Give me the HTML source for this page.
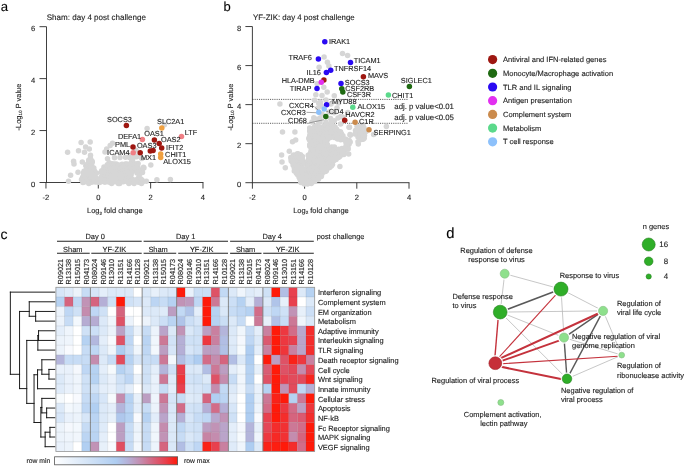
<!DOCTYPE html>
<html lang="en">
<head>
<meta charset="utf-8">
<title>Figure</title>
<style>
html,body{margin:0;padding:0;background:#fff;}
body{width:685px;height:466px;overflow:hidden;}
svg{display:block;font-family:'Liberation Sans', Arial, Helvetica, sans-serif;}
svg text{font-family:'Liberation Sans', Arial, Helvetica, sans-serif;text-rendering:geometricPrecision;stroke:#222;stroke-width:0.12px;}
</style>
</head>
<body>
<svg width="685" height="466" viewBox="0 0 685 466">
<rect x="0" y="0" width="685" height="466" fill="#ffffff"/>
<g id="panel-a">
<text x="0.7" y="11.1" font-size="13.2" text-anchor="start" fill="#000">a</text>
<text x="46.7" y="20" font-size="8.05" text-anchor="start" fill="#1c1c1c">Sham: day 4 post challenge</text>
<line x1="46.5" y1="26.680000000000007" x2="46.5" y2="182.5" stroke="#2a2a2a" stroke-width="0.9"/>
<line x1="46.05" y1="182.5" x2="203.43" y2="182.5" stroke="#2a2a2a" stroke-width="0.9"/>
<line x1="39.5" y1="182.5" x2="46.5" y2="182.5" stroke="#2a2a2a" stroke-width="0.9"/>
<text x="35.3" y="186.7" font-size="7.6" text-anchor="end" fill="#1c1c1c">0</text>
<line x1="39.5" y1="130.56" x2="46.5" y2="130.56" stroke="#2a2a2a" stroke-width="0.9"/>
<text x="35.3" y="134.76" font-size="7.6" text-anchor="end" fill="#1c1c1c">2</text>
<line x1="39.5" y1="78.62" x2="46.5" y2="78.62" stroke="#2a2a2a" stroke-width="0.9"/>
<text x="35.3" y="82.82000000000001" font-size="7.6" text-anchor="end" fill="#1c1c1c">4</text>
<line x1="39.5" y1="26.680000000000007" x2="46.5" y2="26.680000000000007" stroke="#2a2a2a" stroke-width="0.9"/>
<text x="35.3" y="30.880000000000006" font-size="7.6" text-anchor="end" fill="#1c1c1c">6</text>
<line x1="45.959999999999994" y1="182.5" x2="45.959999999999994" y2="188.5" stroke="#2a2a2a" stroke-width="0.9"/>
<text x="45.959999999999994" y="200.1" font-size="7.6" text-anchor="middle" fill="#1c1c1c">-2</text>
<line x1="98.3" y1="182.5" x2="98.3" y2="188.5" stroke="#2a2a2a" stroke-width="0.9"/>
<text x="98.3" y="200.1" font-size="7.6" text-anchor="middle" fill="#1c1c1c">0</text>
<line x1="150.64" y1="182.5" x2="150.64" y2="188.5" stroke="#2a2a2a" stroke-width="0.9"/>
<text x="150.64" y="200.1" font-size="7.6" text-anchor="middle" fill="#1c1c1c">2</text>
<line x1="202.98000000000002" y1="182.5" x2="202.98000000000002" y2="188.5" stroke="#2a2a2a" stroke-width="0.9"/>
<text x="202.98000000000002" y="200.1" font-size="7.6" text-anchor="middle" fill="#1c1c1c">4</text>
<text x="114.8" y="213.0" font-size="7.45" text-anchor="middle" fill="#1c1c1c">Log<tspan font-size="4.6" dy="1.6">2</tspan><tspan dy="-1.6"> fold change</tspan></text>
<text x="20.5" y="107" font-size="7.45" text-anchor="middle" fill="#1c1c1c" transform="rotate(-90 20.5 107)">-Log<tspan font-size="4.6" dy="1.6">10</tspan><tspan dy="-1.6"> P value</tspan></text>
<circle cx="90.4" cy="158.1" r="2.75" fill="#D6D6D6"/>
<circle cx="88.7" cy="160.2" r="2.75" fill="#D6D6D6"/>
<circle cx="91.8" cy="160.7" r="2.75" fill="#D6D6D6"/>
<circle cx="88.4" cy="162.7" r="2.75" fill="#D6D6D6"/>
<circle cx="91.0" cy="162.7" r="2.75" fill="#D6D6D6"/>
<circle cx="92.3" cy="162.0" r="2.75" fill="#D6D6D6"/>
<circle cx="87.0" cy="164.4" r="2.75" fill="#D6D6D6"/>
<circle cx="90.1" cy="164.6" r="2.75" fill="#D6D6D6"/>
<circle cx="91.6" cy="164.5" r="2.75" fill="#D6D6D6"/>
<circle cx="85.8" cy="165.8" r="2.75" fill="#D6D6D6"/>
<circle cx="87.5" cy="165.9" r="2.75" fill="#D6D6D6"/>
<circle cx="89.9" cy="166.3" r="2.75" fill="#D6D6D6"/>
<circle cx="91.9" cy="167.1" r="2.75" fill="#D6D6D6"/>
<circle cx="86.9" cy="168.3" r="2.75" fill="#D6D6D6"/>
<circle cx="89.9" cy="168.2" r="2.75" fill="#D6D6D6"/>
<circle cx="90.8" cy="169.4" r="2.75" fill="#D6D6D6"/>
<circle cx="93.8" cy="168.1" r="2.75" fill="#D6D6D6"/>
<circle cx="84.0" cy="171.3" r="2.75" fill="#D6D6D6"/>
<circle cx="85.8" cy="170.5" r="2.75" fill="#D6D6D6"/>
<circle cx="88.8" cy="171.7" r="2.75" fill="#D6D6D6"/>
<circle cx="91.1" cy="171.4" r="2.75" fill="#D6D6D6"/>
<circle cx="93.2" cy="171.3" r="2.75" fill="#D6D6D6"/>
<circle cx="94.5" cy="170.9" r="2.75" fill="#D6D6D6"/>
<circle cx="83.5" cy="173.0" r="2.75" fill="#D6D6D6"/>
<circle cx="85.7" cy="173.9" r="2.75" fill="#D6D6D6"/>
<circle cx="87.9" cy="172.9" r="2.75" fill="#D6D6D6"/>
<circle cx="89.0" cy="172.7" r="2.75" fill="#D6D6D6"/>
<circle cx="91.1" cy="172.6" r="2.75" fill="#D6D6D6"/>
<circle cx="94.0" cy="173.7" r="2.75" fill="#D6D6D6"/>
<circle cx="96.5" cy="173.1" r="2.75" fill="#D6D6D6"/>
<circle cx="83.4" cy="175.8" r="2.75" fill="#D6D6D6"/>
<circle cx="85.8" cy="175.8" r="2.75" fill="#D6D6D6"/>
<circle cx="89.1" cy="175.1" r="2.75" fill="#D6D6D6"/>
<circle cx="90.3" cy="176.0" r="2.75" fill="#D6D6D6"/>
<circle cx="93.1" cy="174.8" r="2.75" fill="#D6D6D6"/>
<circle cx="94.3" cy="174.7" r="2.75" fill="#D6D6D6"/>
<circle cx="82.6" cy="177.6" r="2.75" fill="#D6D6D6"/>
<circle cx="84.4" cy="176.7" r="2.75" fill="#D6D6D6"/>
<circle cx="88.0" cy="177.7" r="2.75" fill="#D6D6D6"/>
<circle cx="89.4" cy="178.2" r="2.75" fill="#D6D6D6"/>
<circle cx="91.5" cy="178.1" r="2.75" fill="#D6D6D6"/>
<circle cx="94.3" cy="177.0" r="2.75" fill="#D6D6D6"/>
<circle cx="95.6" cy="177.2" r="2.75" fill="#D6D6D6"/>
<circle cx="81.5" cy="179.6" r="2.75" fill="#D6D6D6"/>
<circle cx="84.0" cy="180.3" r="2.75" fill="#D6D6D6"/>
<circle cx="86.0" cy="180.4" r="2.75" fill="#D6D6D6"/>
<circle cx="88.3" cy="179.8" r="2.75" fill="#D6D6D6"/>
<circle cx="90.5" cy="178.9" r="2.75" fill="#D6D6D6"/>
<circle cx="92.6" cy="179.2" r="2.75" fill="#D6D6D6"/>
<circle cx="94.1" cy="180.2" r="2.75" fill="#D6D6D6"/>
<circle cx="96.6" cy="179.7" r="2.75" fill="#D6D6D6"/>
<circle cx="82.9" cy="182.4" r="2.75" fill="#D6D6D6"/>
<circle cx="84.4" cy="182.0" r="2.75" fill="#D6D6D6"/>
<circle cx="86.8" cy="181.5" r="2.75" fill="#D6D6D6"/>
<circle cx="89.8" cy="181.9" r="2.75" fill="#D6D6D6"/>
<circle cx="91.7" cy="182.3" r="2.75" fill="#D6D6D6"/>
<circle cx="94.5" cy="181.8" r="2.75" fill="#D6D6D6"/>
<circle cx="96.2" cy="181.9" r="2.75" fill="#D6D6D6"/>
<circle cx="88.8" cy="183.5" r="2.75" fill="#D6D6D6"/>
<circle cx="109.2" cy="162.7" r="2.75" fill="#D6D6D6"/>
<circle cx="131.5" cy="162.1" r="2.75" fill="#D6D6D6"/>
<circle cx="132.8" cy="162.0" r="2.75" fill="#D6D6D6"/>
<circle cx="107.3" cy="164.7" r="2.75" fill="#D6D6D6"/>
<circle cx="110.8" cy="164.5" r="2.75" fill="#D6D6D6"/>
<circle cx="112.1" cy="163.8" r="2.75" fill="#D6D6D6"/>
<circle cx="114.3" cy="164.1" r="2.75" fill="#D6D6D6"/>
<circle cx="116.3" cy="164.1" r="2.75" fill="#D6D6D6"/>
<circle cx="118.6" cy="164.9" r="2.75" fill="#D6D6D6"/>
<circle cx="122.0" cy="164.3" r="2.75" fill="#D6D6D6"/>
<circle cx="123.0" cy="164.9" r="2.75" fill="#D6D6D6"/>
<circle cx="125.3" cy="164.0" r="2.75" fill="#D6D6D6"/>
<circle cx="127.0" cy="164.0" r="2.75" fill="#D6D6D6"/>
<circle cx="130.0" cy="164.2" r="2.75" fill="#D6D6D6"/>
<circle cx="131.7" cy="164.2" r="2.75" fill="#D6D6D6"/>
<circle cx="133.6" cy="163.8" r="2.75" fill="#D6D6D6"/>
<circle cx="135.9" cy="164.0" r="2.75" fill="#D6D6D6"/>
<circle cx="138.1" cy="163.4" r="2.75" fill="#D6D6D6"/>
<circle cx="104.0" cy="166.9" r="2.75" fill="#D6D6D6"/>
<circle cx="107.5" cy="166.6" r="2.75" fill="#D6D6D6"/>
<circle cx="109.5" cy="166.9" r="2.75" fill="#D6D6D6"/>
<circle cx="110.7" cy="166.4" r="2.75" fill="#D6D6D6"/>
<circle cx="113.5" cy="166.9" r="2.75" fill="#D6D6D6"/>
<circle cx="116.2" cy="166.9" r="2.75" fill="#D6D6D6"/>
<circle cx="118.0" cy="167.0" r="2.75" fill="#D6D6D6"/>
<circle cx="120.4" cy="166.7" r="2.75" fill="#D6D6D6"/>
<circle cx="121.9" cy="165.6" r="2.75" fill="#D6D6D6"/>
<circle cx="123.9" cy="166.2" r="2.75" fill="#D6D6D6"/>
<circle cx="126.1" cy="166.9" r="2.75" fill="#D6D6D6"/>
<circle cx="129.0" cy="166.6" r="2.75" fill="#D6D6D6"/>
<circle cx="131.3" cy="166.7" r="2.75" fill="#D6D6D6"/>
<circle cx="133.3" cy="165.6" r="2.75" fill="#D6D6D6"/>
<circle cx="136.0" cy="166.8" r="2.75" fill="#D6D6D6"/>
<circle cx="137.7" cy="166.5" r="2.75" fill="#D6D6D6"/>
<circle cx="104.0" cy="168.8" r="2.75" fill="#D6D6D6"/>
<circle cx="106.0" cy="167.9" r="2.75" fill="#D6D6D6"/>
<circle cx="107.4" cy="168.2" r="2.75" fill="#D6D6D6"/>
<circle cx="110.6" cy="168.3" r="2.75" fill="#D6D6D6"/>
<circle cx="112.5" cy="167.8" r="2.75" fill="#D6D6D6"/>
<circle cx="113.9" cy="168.2" r="2.75" fill="#D6D6D6"/>
<circle cx="117.1" cy="168.9" r="2.75" fill="#D6D6D6"/>
<circle cx="119.3" cy="168.3" r="2.75" fill="#D6D6D6"/>
<circle cx="121.2" cy="168.5" r="2.75" fill="#D6D6D6"/>
<circle cx="123.3" cy="168.0" r="2.75" fill="#D6D6D6"/>
<circle cx="126.2" cy="168.1" r="2.75" fill="#D6D6D6"/>
<circle cx="128.6" cy="169.3" r="2.75" fill="#D6D6D6"/>
<circle cx="129.2" cy="168.5" r="2.75" fill="#D6D6D6"/>
<circle cx="132.7" cy="169.3" r="2.75" fill="#D6D6D6"/>
<circle cx="134.3" cy="168.2" r="2.75" fill="#D6D6D6"/>
<circle cx="136.1" cy="169.3" r="2.75" fill="#D6D6D6"/>
<circle cx="138.3" cy="168.7" r="2.75" fill="#D6D6D6"/>
<circle cx="143.9" cy="168.0" r="2.75" fill="#D6D6D6"/>
<circle cx="101.7" cy="170.8" r="2.75" fill="#D6D6D6"/>
<circle cx="104.6" cy="170.5" r="2.75" fill="#D6D6D6"/>
<circle cx="106.3" cy="170.6" r="2.75" fill="#D6D6D6"/>
<circle cx="108.8" cy="171.3" r="2.75" fill="#D6D6D6"/>
<circle cx="110.5" cy="171.2" r="2.75" fill="#D6D6D6"/>
<circle cx="114.0" cy="170.2" r="2.75" fill="#D6D6D6"/>
<circle cx="116.4" cy="171.1" r="2.75" fill="#D6D6D6"/>
<circle cx="118.5" cy="170.5" r="2.75" fill="#D6D6D6"/>
<circle cx="119.9" cy="170.6" r="2.75" fill="#D6D6D6"/>
<circle cx="123.1" cy="170.9" r="2.75" fill="#D6D6D6"/>
<circle cx="124.3" cy="170.7" r="2.75" fill="#D6D6D6"/>
<circle cx="126.3" cy="170.1" r="2.75" fill="#D6D6D6"/>
<circle cx="128.3" cy="171.3" r="2.75" fill="#D6D6D6"/>
<circle cx="130.8" cy="171.5" r="2.75" fill="#D6D6D6"/>
<circle cx="132.9" cy="170.4" r="2.75" fill="#D6D6D6"/>
<circle cx="135.5" cy="170.3" r="2.75" fill="#D6D6D6"/>
<circle cx="137.5" cy="171.5" r="2.75" fill="#D6D6D6"/>
<circle cx="140.5" cy="171.3" r="2.75" fill="#D6D6D6"/>
<circle cx="142.3" cy="171.5" r="2.75" fill="#D6D6D6"/>
<circle cx="101.1" cy="172.3" r="2.75" fill="#D6D6D6"/>
<circle cx="104.3" cy="172.4" r="2.75" fill="#D6D6D6"/>
<circle cx="105.8" cy="172.7" r="2.75" fill="#D6D6D6"/>
<circle cx="107.7" cy="173.4" r="2.75" fill="#D6D6D6"/>
<circle cx="111.0" cy="172.6" r="2.75" fill="#D6D6D6"/>
<circle cx="112.6" cy="172.7" r="2.75" fill="#D6D6D6"/>
<circle cx="114.7" cy="172.8" r="2.75" fill="#D6D6D6"/>
<circle cx="116.3" cy="172.5" r="2.75" fill="#D6D6D6"/>
<circle cx="118.5" cy="173.6" r="2.75" fill="#D6D6D6"/>
<circle cx="121.2" cy="172.6" r="2.75" fill="#D6D6D6"/>
<circle cx="124.1" cy="173.8" r="2.75" fill="#D6D6D6"/>
<circle cx="125.5" cy="172.4" r="2.75" fill="#D6D6D6"/>
<circle cx="127.3" cy="172.3" r="2.75" fill="#D6D6D6"/>
<circle cx="129.7" cy="172.3" r="2.75" fill="#D6D6D6"/>
<circle cx="131.8" cy="172.6" r="2.75" fill="#D6D6D6"/>
<circle cx="137.0" cy="172.9" r="2.75" fill="#D6D6D6"/>
<circle cx="138.7" cy="173.0" r="2.75" fill="#D6D6D6"/>
<circle cx="140.8" cy="172.7" r="2.75" fill="#D6D6D6"/>
<circle cx="142.5" cy="172.6" r="2.75" fill="#D6D6D6"/>
<circle cx="102.3" cy="175.1" r="2.75" fill="#D6D6D6"/>
<circle cx="105.4" cy="175.8" r="2.75" fill="#D6D6D6"/>
<circle cx="107.5" cy="174.4" r="2.75" fill="#D6D6D6"/>
<circle cx="108.4" cy="175.5" r="2.75" fill="#D6D6D6"/>
<circle cx="111.9" cy="175.2" r="2.75" fill="#D6D6D6"/>
<circle cx="113.6" cy="174.4" r="2.75" fill="#D6D6D6"/>
<circle cx="115.5" cy="175.9" r="2.75" fill="#D6D6D6"/>
<circle cx="118.4" cy="175.8" r="2.75" fill="#D6D6D6"/>
<circle cx="120.9" cy="174.8" r="2.75" fill="#D6D6D6"/>
<circle cx="121.7" cy="174.6" r="2.75" fill="#D6D6D6"/>
<circle cx="124.5" cy="175.5" r="2.75" fill="#D6D6D6"/>
<circle cx="127.4" cy="175.6" r="2.75" fill="#D6D6D6"/>
<circle cx="129.1" cy="175.6" r="2.75" fill="#D6D6D6"/>
<circle cx="131.0" cy="175.3" r="2.75" fill="#D6D6D6"/>
<circle cx="139.3" cy="174.8" r="2.75" fill="#D6D6D6"/>
<circle cx="101.1" cy="177.3" r="2.75" fill="#D6D6D6"/>
<circle cx="104.3" cy="177.6" r="2.75" fill="#D6D6D6"/>
<circle cx="106.4" cy="177.4" r="2.75" fill="#D6D6D6"/>
<circle cx="107.6" cy="177.0" r="2.75" fill="#D6D6D6"/>
<circle cx="110.9" cy="177.7" r="2.75" fill="#D6D6D6"/>
<circle cx="112.1" cy="176.6" r="2.75" fill="#D6D6D6"/>
<circle cx="114.6" cy="177.7" r="2.75" fill="#D6D6D6"/>
<circle cx="116.7" cy="177.0" r="2.75" fill="#D6D6D6"/>
<circle cx="119.3" cy="178.1" r="2.75" fill="#D6D6D6"/>
<circle cx="120.8" cy="176.7" r="2.75" fill="#D6D6D6"/>
<circle cx="123.1" cy="177.3" r="2.75" fill="#D6D6D6"/>
<circle cx="125.9" cy="176.9" r="2.75" fill="#D6D6D6"/>
<circle cx="128.3" cy="177.8" r="2.75" fill="#D6D6D6"/>
<circle cx="130.0" cy="176.9" r="2.75" fill="#D6D6D6"/>
<circle cx="138.5" cy="178.1" r="2.75" fill="#D6D6D6"/>
<circle cx="99.7" cy="178.9" r="2.75" fill="#D6D6D6"/>
<circle cx="101.8" cy="179.4" r="2.75" fill="#D6D6D6"/>
<circle cx="105.3" cy="180.2" r="2.75" fill="#D6D6D6"/>
<circle cx="107.3" cy="180.4" r="2.75" fill="#D6D6D6"/>
<circle cx="109.8" cy="179.3" r="2.75" fill="#D6D6D6"/>
<circle cx="110.8" cy="180.3" r="2.75" fill="#D6D6D6"/>
<circle cx="113.9" cy="178.9" r="2.75" fill="#D6D6D6"/>
<circle cx="116.0" cy="179.4" r="2.75" fill="#D6D6D6"/>
<circle cx="117.7" cy="179.3" r="2.75" fill="#D6D6D6"/>
<circle cx="119.6" cy="178.8" r="2.75" fill="#D6D6D6"/>
<circle cx="121.9" cy="179.4" r="2.75" fill="#D6D6D6"/>
<circle cx="125.2" cy="179.0" r="2.75" fill="#D6D6D6"/>
<circle cx="127.4" cy="179.1" r="2.75" fill="#D6D6D6"/>
<circle cx="128.7" cy="180.1" r="2.75" fill="#D6D6D6"/>
<circle cx="131.6" cy="179.5" r="2.75" fill="#D6D6D6"/>
<circle cx="132.6" cy="179.6" r="2.75" fill="#D6D6D6"/>
<circle cx="135.3" cy="180.3" r="2.75" fill="#D6D6D6"/>
<circle cx="137.2" cy="179.4" r="2.75" fill="#D6D6D6"/>
<circle cx="140.5" cy="178.8" r="2.75" fill="#D6D6D6"/>
<circle cx="142.0" cy="180.1" r="2.75" fill="#D6D6D6"/>
<circle cx="99.6" cy="182.4" r="2.75" fill="#D6D6D6"/>
<circle cx="101.1" cy="181.4" r="2.75" fill="#D6D6D6"/>
<circle cx="104.3" cy="182.0" r="2.75" fill="#D6D6D6"/>
<circle cx="105.4" cy="182.1" r="2.75" fill="#D6D6D6"/>
<circle cx="107.7" cy="181.4" r="2.75" fill="#D6D6D6"/>
<circle cx="109.4" cy="182.2" r="2.75" fill="#D6D6D6"/>
<circle cx="113.1" cy="182.0" r="2.75" fill="#D6D6D6"/>
<circle cx="115.3" cy="181.0" r="2.75" fill="#D6D6D6"/>
<circle cx="116.4" cy="181.8" r="2.75" fill="#D6D6D6"/>
<circle cx="119.7" cy="182.5" r="2.75" fill="#D6D6D6"/>
<circle cx="121.0" cy="181.4" r="2.75" fill="#D6D6D6"/>
<circle cx="123.3" cy="181.8" r="2.75" fill="#D6D6D6"/>
<circle cx="126.3" cy="181.3" r="2.75" fill="#D6D6D6"/>
<circle cx="128.3" cy="182.2" r="2.75" fill="#D6D6D6"/>
<circle cx="130.5" cy="182.2" r="2.75" fill="#D6D6D6"/>
<circle cx="132.4" cy="181.5" r="2.75" fill="#D6D6D6"/>
<circle cx="134.1" cy="181.6" r="2.75" fill="#D6D6D6"/>
<circle cx="137.1" cy="181.1" r="2.75" fill="#D6D6D6"/>
<circle cx="138.3" cy="182.2" r="2.75" fill="#D6D6D6"/>
<circle cx="140.6" cy="181.1" r="2.75" fill="#D6D6D6"/>
<circle cx="142.5" cy="181.9" r="2.75" fill="#D6D6D6"/>
<circle cx="111.6" cy="183.4" r="2.75" fill="#D6D6D6"/>
<circle cx="118.3" cy="183.5" r="2.75" fill="#D6D6D6"/>
<circle cx="119.7" cy="183.6" r="2.75" fill="#D6D6D6"/>
<circle cx="128.9" cy="183.6" r="2.75" fill="#D6D6D6"/>
<circle cx="134.1" cy="183.4" r="2.75" fill="#D6D6D6"/>
<circle cx="141.5" cy="183.5" r="2.75" fill="#D6D6D6"/>
<circle cx="67.6" cy="152.3" r="2.75" fill="#D6D6D6"/>
<circle cx="81.1" cy="142.5" r="2.75" fill="#D6D6D6"/>
<circle cx="90.2" cy="142.1" r="2.75" fill="#D6D6D6"/>
<circle cx="85.6" cy="147.0" r="2.75" fill="#D6D6D6"/>
<circle cx="78.5" cy="150.8" r="2.75" fill="#D6D6D6"/>
<circle cx="89.3" cy="149.0" r="2.75" fill="#D6D6D6"/>
<circle cx="84.5" cy="152.3" r="2.75" fill="#D6D6D6"/>
<circle cx="73.6" cy="161.3" r="2.75" fill="#D6D6D6"/>
<circle cx="74.0" cy="164.0" r="2.75" fill="#D6D6D6"/>
<circle cx="82.3" cy="162.0" r="2.75" fill="#D6D6D6"/>
<circle cx="78.0" cy="172.3" r="2.75" fill="#D6D6D6"/>
<circle cx="70.6" cy="175.3" r="2.75" fill="#D6D6D6"/>
<circle cx="68.5" cy="181.3" r="2.75" fill="#D6D6D6"/>
<circle cx="90.5" cy="155.3" r="2.75" fill="#D6D6D6"/>
<circle cx="112.5" cy="143.3" r="2.75" fill="#D6D6D6"/>
<circle cx="110.2" cy="145.6" r="2.75" fill="#D6D6D6"/>
<circle cx="105.0" cy="152.0" r="2.75" fill="#D6D6D6"/>
<circle cx="106.7" cy="149.1" r="2.75" fill="#D6D6D6"/>
<circle cx="135.9" cy="150.3" r="2.75" fill="#D6D6D6"/>
<circle cx="130.0" cy="155.5" r="2.75" fill="#D6D6D6"/>
<circle cx="137.0" cy="156.1" r="2.75" fill="#D6D6D6"/>
<circle cx="107.5" cy="158.8" r="2.75" fill="#D6D6D6"/>
<circle cx="120.0" cy="157.5" r="2.75" fill="#D6D6D6"/>
<circle cx="125.5" cy="157.2" r="2.75" fill="#D6D6D6"/>
<circle cx="114.5" cy="157.8" r="2.75" fill="#D6D6D6"/>
<circle cx="129.5" cy="157.6" r="2.75" fill="#D6D6D6"/>
<circle cx="136.6" cy="156.8" r="2.75" fill="#D6D6D6"/>
<circle cx="141.8" cy="158.6" r="2.75" fill="#D6D6D6"/>
<circle cx="133.0" cy="158.0" r="2.75" fill="#D6D6D6"/>
<circle cx="147.1" cy="128.6" r="2.75" fill="#D6D6D6"/>
<circle cx="164.5" cy="124.8" r="2.75" fill="#D6D6D6"/>
<circle cx="156.9" cy="179.8" r="2.75" fill="#D6D6D6"/>
<circle cx="170.4" cy="179.6" r="2.75" fill="#D6D6D6"/>
<circle cx="146.4" cy="181.2" r="2.75" fill="#D6D6D6"/>
<circle cx="150.8" cy="164.9" r="2.75" fill="#D6D6D6"/>
<circle cx="143.5" cy="167.2" r="2.75" fill="#D6D6D6"/>
<circle cx="126.4" cy="125.4" r="2.75" fill="#9E1711"/>
<circle cx="161.8" cy="127.9" r="2.75" fill="#F0A040"/>
<circle cx="142.4" cy="139.6" r="2.75" fill="#F07F85"/>
<circle cx="154.4" cy="140.0" r="2.75" fill="#9E1711"/>
<circle cx="159.2" cy="143.6" r="2.75" fill="#9E1711"/>
<circle cx="161.7" cy="148.1" r="2.75" fill="#9E1711"/>
<circle cx="133.0" cy="146.9" r="2.75" fill="#9E1711"/>
<circle cx="150.3" cy="151.1" r="2.75" fill="#9E1711"/>
<circle cx="153.1" cy="150.5" r="2.75" fill="#9E1711"/>
<circle cx="133.2" cy="152.7" r="2.75" fill="#F07F85"/>
<circle cx="140.2" cy="152.7" r="2.75" fill="#9E1711"/>
<circle cx="160.7" cy="154.1" r="2.75" fill="#F0A040"/>
<circle cx="160.7" cy="157.6" r="2.75" fill="#F0A040"/>
<circle cx="181.5" cy="136.4" r="2.75" fill="#F07F85"/>
<text x="107" y="122.2" font-size="7.35" text-anchor="start" fill="#1c1c1c">SOCS3</text>
<text x="157" y="124.4" font-size="7.35" text-anchor="start" fill="#1c1c1c">SLC2A1</text>
<text x="117.9" y="139.3" font-size="7.35" text-anchor="start" fill="#1c1c1c">DEFA1</text>
<text x="144.2" y="136.4" font-size="7.35" text-anchor="start" fill="#1c1c1c">OAS1</text>
<text x="161" y="142.2" font-size="7.35" text-anchor="start" fill="#1c1c1c">OAS2</text>
<text x="184.8" y="135.2" font-size="7.35" text-anchor="start" fill="#1c1c1c">LTF</text>
<text x="115" y="147" font-size="7.35" text-anchor="start" fill="#1c1c1c">PML</text>
<text x="136.9" y="148" font-size="7.35" text-anchor="start" fill="#1c1c1c">OAS3</text>
<text x="166.1" y="149.5" font-size="7.35" text-anchor="start" fill="#1c1c1c">IFIT2</text>
<text x="107.1" y="155.4" font-size="7.35" text-anchor="start" fill="#1c1c1c">ICAM4</text>
<text x="141" y="159.8" font-size="7.35" text-anchor="start" fill="#1c1c1c">MX1</text>
<text x="165.1" y="157.1" font-size="7.35" text-anchor="start" fill="#1c1c1c">CHIT1</text>
<text x="163.2" y="163.7" font-size="7.35" text-anchor="start" fill="#1c1c1c">ALOX15</text>
</g>
<g id="panel-b">
<text x="223.6" y="10.6" font-size="13" text-anchor="start" fill="#000">b</text>
<text x="253.0" y="19.6" font-size="7.9" text-anchor="start" fill="#1c1c1c">YF-ZIK: day 4 post challenge</text>
<line x1="252.40000000000003" y1="99.4" x2="408.5" y2="99.4" stroke="#333" stroke-width="0.8" stroke-dasharray="1.1 1.1"/>
<line x1="252.40000000000003" y1="123.3" x2="408.5" y2="123.3" stroke="#333" stroke-width="0.8" stroke-dasharray="1.1 1.1"/>
<line x1="252.40000000000003" y1="26.539999999999992" x2="252.40000000000003" y2="182.7" stroke="#2a2a2a" stroke-width="0.9"/>
<line x1="251.95000000000005" y1="182.7" x2="409.45" y2="182.7" stroke="#2a2a2a" stroke-width="0.9"/>
<line x1="245.40000000000003" y1="182.7" x2="252.40000000000003" y2="182.7" stroke="#2a2a2a" stroke-width="0.9"/>
<text x="241.20000000000005" y="186.89999999999998" font-size="7.6" text-anchor="end" fill="#1c1c1c">0</text>
<line x1="245.40000000000003" y1="143.66" x2="252.40000000000003" y2="143.66" stroke="#2a2a2a" stroke-width="0.9"/>
<text x="241.20000000000005" y="147.85999999999999" font-size="7.6" text-anchor="end" fill="#1c1c1c">2</text>
<line x1="245.40000000000003" y1="104.61999999999999" x2="252.40000000000003" y2="104.61999999999999" stroke="#2a2a2a" stroke-width="0.9"/>
<text x="241.20000000000005" y="108.82" font-size="7.6" text-anchor="end" fill="#1c1c1c">4</text>
<line x1="245.40000000000003" y1="65.57999999999998" x2="252.40000000000003" y2="65.57999999999998" stroke="#2a2a2a" stroke-width="0.9"/>
<text x="241.20000000000005" y="69.77999999999999" font-size="7.6" text-anchor="end" fill="#1c1c1c">6</text>
<line x1="245.40000000000003" y1="26.539999999999992" x2="252.40000000000003" y2="26.539999999999992" stroke="#2a2a2a" stroke-width="0.9"/>
<text x="241.20000000000005" y="30.73999999999999" font-size="7.6" text-anchor="end" fill="#1c1c1c">8</text>
<line x1="252.40000000000003" y1="182.7" x2="252.40000000000003" y2="188.7" stroke="#2a2a2a" stroke-width="0.9"/>
<text x="252.40000000000003" y="200.1" font-size="7.6" text-anchor="middle" fill="#1c1c1c">-2</text>
<line x1="304.6" y1="182.7" x2="304.6" y2="188.7" stroke="#2a2a2a" stroke-width="0.9"/>
<text x="304.6" y="200.1" font-size="7.6" text-anchor="middle" fill="#1c1c1c">0</text>
<line x1="356.8" y1="182.7" x2="356.8" y2="188.7" stroke="#2a2a2a" stroke-width="0.9"/>
<text x="356.8" y="200.1" font-size="7.6" text-anchor="middle" fill="#1c1c1c">2</text>
<line x1="409.0" y1="182.7" x2="409.0" y2="188.7" stroke="#2a2a2a" stroke-width="0.9"/>
<text x="409.0" y="200.1" font-size="7.6" text-anchor="middle" fill="#1c1c1c">4</text>
<text x="321.0" y="212.6" font-size="7.45" text-anchor="middle" fill="#1c1c1c">Log<tspan font-size="4.6" dy="1.6">2</tspan><tspan dy="-1.6"> fold change</tspan></text>
<text x="232.5" y="107" font-size="7.45" text-anchor="middle" fill="#1c1c1c" transform="rotate(-90 232.5 107)">-Log<tspan font-size="4.6" dy="1.6">10</tspan><tspan dy="-1.6"> P value</tspan></text>
<circle cx="317.8" cy="124.9" r="2.75" fill="#D6D6D6"/>
<circle cx="325.9" cy="124.3" r="2.75" fill="#D6D6D6"/>
<circle cx="327.4" cy="124.8" r="2.75" fill="#D6D6D6"/>
<circle cx="329.5" cy="124.7" r="2.75" fill="#D6D6D6"/>
<circle cx="314.4" cy="127.2" r="2.75" fill="#D6D6D6"/>
<circle cx="315.4" cy="126.0" r="2.75" fill="#D6D6D6"/>
<circle cx="318.5" cy="127.4" r="2.75" fill="#D6D6D6"/>
<circle cx="319.8" cy="127.4" r="2.75" fill="#D6D6D6"/>
<circle cx="323.2" cy="126.8" r="2.75" fill="#D6D6D6"/>
<circle cx="324.6" cy="125.9" r="2.75" fill="#D6D6D6"/>
<circle cx="326.1" cy="127.4" r="2.75" fill="#D6D6D6"/>
<circle cx="328.6" cy="127.0" r="2.75" fill="#D6D6D6"/>
<circle cx="330.9" cy="127.2" r="2.75" fill="#D6D6D6"/>
<circle cx="333.7" cy="126.2" r="2.75" fill="#D6D6D6"/>
<circle cx="335.1" cy="127.0" r="2.75" fill="#D6D6D6"/>
<circle cx="311.7" cy="129.5" r="2.75" fill="#D6D6D6"/>
<circle cx="315.2" cy="129.6" r="2.75" fill="#D6D6D6"/>
<circle cx="316.1" cy="129.0" r="2.75" fill="#D6D6D6"/>
<circle cx="319.2" cy="129.2" r="2.75" fill="#D6D6D6"/>
<circle cx="321.1" cy="129.7" r="2.75" fill="#D6D6D6"/>
<circle cx="322.8" cy="128.9" r="2.75" fill="#D6D6D6"/>
<circle cx="326.2" cy="129.5" r="2.75" fill="#D6D6D6"/>
<circle cx="328.4" cy="129.2" r="2.75" fill="#D6D6D6"/>
<circle cx="330.7" cy="129.5" r="2.75" fill="#D6D6D6"/>
<circle cx="332.1" cy="129.1" r="2.75" fill="#D6D6D6"/>
<circle cx="335.3" cy="129.5" r="2.75" fill="#D6D6D6"/>
<circle cx="336.7" cy="129.3" r="2.75" fill="#D6D6D6"/>
<circle cx="309.7" cy="131.0" r="2.75" fill="#D6D6D6"/>
<circle cx="311.7" cy="131.8" r="2.75" fill="#D6D6D6"/>
<circle cx="313.3" cy="130.1" r="2.75" fill="#D6D6D6"/>
<circle cx="315.5" cy="131.3" r="2.75" fill="#D6D6D6"/>
<circle cx="317.6" cy="130.4" r="2.75" fill="#D6D6D6"/>
<circle cx="321.0" cy="131.3" r="2.75" fill="#D6D6D6"/>
<circle cx="322.4" cy="131.7" r="2.75" fill="#D6D6D6"/>
<circle cx="324.4" cy="131.3" r="2.75" fill="#D6D6D6"/>
<circle cx="326.4" cy="130.9" r="2.75" fill="#D6D6D6"/>
<circle cx="329.7" cy="131.7" r="2.75" fill="#D6D6D6"/>
<circle cx="332.0" cy="130.8" r="2.75" fill="#D6D6D6"/>
<circle cx="333.6" cy="130.7" r="2.75" fill="#D6D6D6"/>
<circle cx="335.0" cy="131.0" r="2.75" fill="#D6D6D6"/>
<circle cx="338.5" cy="131.6" r="2.75" fill="#D6D6D6"/>
<circle cx="340.5" cy="131.8" r="2.75" fill="#D6D6D6"/>
<circle cx="310.1" cy="133.7" r="2.75" fill="#D6D6D6"/>
<circle cx="311.7" cy="132.5" r="2.75" fill="#D6D6D6"/>
<circle cx="314.7" cy="132.3" r="2.75" fill="#D6D6D6"/>
<circle cx="317.6" cy="132.7" r="2.75" fill="#D6D6D6"/>
<circle cx="318.6" cy="132.4" r="2.75" fill="#D6D6D6"/>
<circle cx="321.6" cy="133.1" r="2.75" fill="#D6D6D6"/>
<circle cx="323.8" cy="133.5" r="2.75" fill="#D6D6D6"/>
<circle cx="326.4" cy="134.0" r="2.75" fill="#D6D6D6"/>
<circle cx="328.3" cy="132.7" r="2.75" fill="#D6D6D6"/>
<circle cx="330.2" cy="132.6" r="2.75" fill="#D6D6D6"/>
<circle cx="331.5" cy="133.1" r="2.75" fill="#D6D6D6"/>
<circle cx="335.0" cy="132.6" r="2.75" fill="#D6D6D6"/>
<circle cx="336.4" cy="132.9" r="2.75" fill="#D6D6D6"/>
<circle cx="339.4" cy="133.2" r="2.75" fill="#D6D6D6"/>
<circle cx="341.4" cy="133.7" r="2.75" fill="#D6D6D6"/>
<circle cx="309.7" cy="136.0" r="2.75" fill="#D6D6D6"/>
<circle cx="311.8" cy="135.8" r="2.75" fill="#D6D6D6"/>
<circle cx="313.2" cy="136.1" r="2.75" fill="#D6D6D6"/>
<circle cx="316.8" cy="136.3" r="2.75" fill="#D6D6D6"/>
<circle cx="318.2" cy="135.9" r="2.75" fill="#D6D6D6"/>
<circle cx="320.0" cy="136.1" r="2.75" fill="#D6D6D6"/>
<circle cx="323.1" cy="135.1" r="2.75" fill="#D6D6D6"/>
<circle cx="323.9" cy="135.3" r="2.75" fill="#D6D6D6"/>
<circle cx="327.0" cy="135.9" r="2.75" fill="#D6D6D6"/>
<circle cx="329.1" cy="134.6" r="2.75" fill="#D6D6D6"/>
<circle cx="331.9" cy="134.6" r="2.75" fill="#D6D6D6"/>
<circle cx="334.0" cy="134.8" r="2.75" fill="#D6D6D6"/>
<circle cx="335.4" cy="135.9" r="2.75" fill="#D6D6D6"/>
<circle cx="337.3" cy="134.8" r="2.75" fill="#D6D6D6"/>
<circle cx="340.1" cy="135.8" r="2.75" fill="#D6D6D6"/>
<circle cx="342.9" cy="135.7" r="2.75" fill="#D6D6D6"/>
<circle cx="308.8" cy="138.3" r="2.75" fill="#D6D6D6"/>
<circle cx="309.9" cy="138.2" r="2.75" fill="#D6D6D6"/>
<circle cx="313.4" cy="137.6" r="2.75" fill="#D6D6D6"/>
<circle cx="314.9" cy="137.1" r="2.75" fill="#D6D6D6"/>
<circle cx="317.1" cy="137.6" r="2.75" fill="#D6D6D6"/>
<circle cx="319.4" cy="136.7" r="2.75" fill="#D6D6D6"/>
<circle cx="322.2" cy="137.6" r="2.75" fill="#D6D6D6"/>
<circle cx="323.4" cy="138.1" r="2.75" fill="#D6D6D6"/>
<circle cx="325.9" cy="137.6" r="2.75" fill="#D6D6D6"/>
<circle cx="328.3" cy="136.8" r="2.75" fill="#D6D6D6"/>
<circle cx="330.3" cy="137.4" r="2.75" fill="#D6D6D6"/>
<circle cx="334.2" cy="137.6" r="2.75" fill="#D6D6D6"/>
<circle cx="336.1" cy="137.5" r="2.75" fill="#D6D6D6"/>
<circle cx="339.6" cy="138.3" r="2.75" fill="#D6D6D6"/>
<circle cx="341.2" cy="137.3" r="2.75" fill="#D6D6D6"/>
<circle cx="342.8" cy="137.8" r="2.75" fill="#D6D6D6"/>
<circle cx="309.4" cy="139.7" r="2.75" fill="#D6D6D6"/>
<circle cx="311.3" cy="139.6" r="2.75" fill="#D6D6D6"/>
<circle cx="313.8" cy="139.2" r="2.75" fill="#D6D6D6"/>
<circle cx="315.4" cy="140.0" r="2.75" fill="#D6D6D6"/>
<circle cx="318.3" cy="139.9" r="2.75" fill="#D6D6D6"/>
<circle cx="320.9" cy="140.0" r="2.75" fill="#D6D6D6"/>
<circle cx="323.1" cy="139.3" r="2.75" fill="#D6D6D6"/>
<circle cx="325.1" cy="140.4" r="2.75" fill="#D6D6D6"/>
<circle cx="327.6" cy="139.5" r="2.75" fill="#D6D6D6"/>
<circle cx="337.5" cy="139.1" r="2.75" fill="#D6D6D6"/>
<circle cx="340.7" cy="139.7" r="2.75" fill="#D6D6D6"/>
<circle cx="342.8" cy="139.1" r="2.75" fill="#D6D6D6"/>
<circle cx="344.3" cy="140.1" r="2.75" fill="#D6D6D6"/>
<circle cx="345.8" cy="139.3" r="2.75" fill="#D6D6D6"/>
<circle cx="349.2" cy="140.5" r="2.75" fill="#D6D6D6"/>
<circle cx="310.5" cy="142.0" r="2.75" fill="#D6D6D6"/>
<circle cx="312.7" cy="141.4" r="2.75" fill="#D6D6D6"/>
<circle cx="314.2" cy="141.5" r="2.75" fill="#D6D6D6"/>
<circle cx="317.6" cy="142.9" r="2.75" fill="#D6D6D6"/>
<circle cx="320.0" cy="141.3" r="2.75" fill="#D6D6D6"/>
<circle cx="320.6" cy="142.8" r="2.75" fill="#D6D6D6"/>
<circle cx="323.5" cy="142.5" r="2.75" fill="#D6D6D6"/>
<circle cx="325.5" cy="141.9" r="2.75" fill="#D6D6D6"/>
<circle cx="346.0" cy="142.6" r="2.75" fill="#D6D6D6"/>
<circle cx="348.0" cy="141.8" r="2.75" fill="#D6D6D6"/>
<circle cx="350.2" cy="142.0" r="2.75" fill="#D6D6D6"/>
<circle cx="309.7" cy="144.7" r="2.75" fill="#D6D6D6"/>
<circle cx="312.0" cy="144.0" r="2.75" fill="#D6D6D6"/>
<circle cx="314.1" cy="143.4" r="2.75" fill="#D6D6D6"/>
<circle cx="315.6" cy="144.1" r="2.75" fill="#D6D6D6"/>
<circle cx="317.2" cy="143.9" r="2.75" fill="#D6D6D6"/>
<circle cx="320.5" cy="144.4" r="2.75" fill="#D6D6D6"/>
<circle cx="322.0" cy="145.0" r="2.75" fill="#D6D6D6"/>
<circle cx="325.0" cy="143.9" r="2.75" fill="#D6D6D6"/>
<circle cx="327.2" cy="144.3" r="2.75" fill="#D6D6D6"/>
<circle cx="346.3" cy="144.9" r="2.75" fill="#D6D6D6"/>
<circle cx="349.0" cy="144.2" r="2.75" fill="#D6D6D6"/>
<circle cx="309.8" cy="146.3" r="2.75" fill="#D6D6D6"/>
<circle cx="312.0" cy="146.4" r="2.75" fill="#D6D6D6"/>
<circle cx="315.0" cy="145.6" r="2.75" fill="#D6D6D6"/>
<circle cx="317.8" cy="146.3" r="2.75" fill="#D6D6D6"/>
<circle cx="319.2" cy="146.6" r="2.75" fill="#D6D6D6"/>
<circle cx="321.2" cy="146.0" r="2.75" fill="#D6D6D6"/>
<circle cx="323.9" cy="146.5" r="2.75" fill="#D6D6D6"/>
<circle cx="325.4" cy="146.8" r="2.75" fill="#D6D6D6"/>
<circle cx="327.6" cy="145.5" r="2.75" fill="#D6D6D6"/>
<circle cx="331.8" cy="146.9" r="2.75" fill="#D6D6D6"/>
<circle cx="334.4" cy="147.1" r="2.75" fill="#D6D6D6"/>
<circle cx="346.5" cy="145.9" r="2.75" fill="#D6D6D6"/>
<circle cx="347.8" cy="147.2" r="2.75" fill="#D6D6D6"/>
<circle cx="311.4" cy="148.2" r="2.75" fill="#D6D6D6"/>
<circle cx="313.8" cy="148.5" r="2.75" fill="#D6D6D6"/>
<circle cx="316.4" cy="148.7" r="2.75" fill="#D6D6D6"/>
<circle cx="319.0" cy="149.4" r="2.75" fill="#D6D6D6"/>
<circle cx="320.7" cy="148.1" r="2.75" fill="#D6D6D6"/>
<circle cx="321.8" cy="149.3" r="2.75" fill="#D6D6D6"/>
<circle cx="325.2" cy="148.8" r="2.75" fill="#D6D6D6"/>
<circle cx="326.6" cy="148.2" r="2.75" fill="#D6D6D6"/>
<circle cx="329.4" cy="148.7" r="2.75" fill="#D6D6D6"/>
<circle cx="331.5" cy="148.8" r="2.75" fill="#D6D6D6"/>
<circle cx="334.0" cy="148.0" r="2.75" fill="#D6D6D6"/>
<circle cx="335.2" cy="149.5" r="2.75" fill="#D6D6D6"/>
<circle cx="338.6" cy="149.3" r="2.75" fill="#D6D6D6"/>
<circle cx="341.9" cy="148.5" r="2.75" fill="#D6D6D6"/>
<circle cx="344.7" cy="147.9" r="2.75" fill="#D6D6D6"/>
<circle cx="346.8" cy="147.8" r="2.75" fill="#D6D6D6"/>
<circle cx="348.2" cy="148.9" r="2.75" fill="#D6D6D6"/>
<circle cx="311.0" cy="151.0" r="2.75" fill="#D6D6D6"/>
<circle cx="313.1" cy="150.3" r="2.75" fill="#D6D6D6"/>
<circle cx="314.7" cy="150.4" r="2.75" fill="#D6D6D6"/>
<circle cx="317.6" cy="150.6" r="2.75" fill="#D6D6D6"/>
<circle cx="319.5" cy="151.7" r="2.75" fill="#D6D6D6"/>
<circle cx="321.1" cy="150.9" r="2.75" fill="#D6D6D6"/>
<circle cx="324.0" cy="151.6" r="2.75" fill="#D6D6D6"/>
<circle cx="325.7" cy="150.6" r="2.75" fill="#D6D6D6"/>
<circle cx="327.3" cy="151.5" r="2.75" fill="#D6D6D6"/>
<circle cx="329.4" cy="150.0" r="2.75" fill="#D6D6D6"/>
<circle cx="332.5" cy="150.8" r="2.75" fill="#D6D6D6"/>
<circle cx="334.9" cy="150.4" r="2.75" fill="#D6D6D6"/>
<circle cx="337.3" cy="150.0" r="2.75" fill="#D6D6D6"/>
<circle cx="338.5" cy="151.1" r="2.75" fill="#D6D6D6"/>
<circle cx="340.4" cy="150.4" r="2.75" fill="#D6D6D6"/>
<circle cx="343.8" cy="151.1" r="2.75" fill="#D6D6D6"/>
<circle cx="345.2" cy="150.2" r="2.75" fill="#D6D6D6"/>
<circle cx="310.1" cy="153.7" r="2.75" fill="#D6D6D6"/>
<circle cx="311.0" cy="152.8" r="2.75" fill="#D6D6D6"/>
<circle cx="313.5" cy="152.8" r="2.75" fill="#D6D6D6"/>
<circle cx="315.7" cy="152.8" r="2.75" fill="#D6D6D6"/>
<circle cx="317.6" cy="153.1" r="2.75" fill="#D6D6D6"/>
<circle cx="320.8" cy="153.1" r="2.75" fill="#D6D6D6"/>
<circle cx="323.1" cy="153.1" r="2.75" fill="#D6D6D6"/>
<circle cx="324.1" cy="153.5" r="2.75" fill="#D6D6D6"/>
<circle cx="327.6" cy="152.6" r="2.75" fill="#D6D6D6"/>
<circle cx="328.2" cy="153.0" r="2.75" fill="#D6D6D6"/>
<circle cx="331.4" cy="153.1" r="2.75" fill="#D6D6D6"/>
<circle cx="334.3" cy="153.3" r="2.75" fill="#D6D6D6"/>
<circle cx="336.2" cy="152.2" r="2.75" fill="#D6D6D6"/>
<circle cx="338.0" cy="153.5" r="2.75" fill="#D6D6D6"/>
<circle cx="339.4" cy="152.2" r="2.75" fill="#D6D6D6"/>
<circle cx="342.7" cy="153.7" r="2.75" fill="#D6D6D6"/>
<circle cx="343.8" cy="153.2" r="2.75" fill="#D6D6D6"/>
<circle cx="308.2" cy="155.3" r="2.75" fill="#D6D6D6"/>
<circle cx="310.8" cy="155.6" r="2.75" fill="#D6D6D6"/>
<circle cx="313.3" cy="155.0" r="2.75" fill="#D6D6D6"/>
<circle cx="315.4" cy="155.5" r="2.75" fill="#D6D6D6"/>
<circle cx="317.6" cy="155.8" r="2.75" fill="#D6D6D6"/>
<circle cx="319.8" cy="155.9" r="2.75" fill="#D6D6D6"/>
<circle cx="322.2" cy="155.5" r="2.75" fill="#D6D6D6"/>
<circle cx="323.6" cy="155.6" r="2.75" fill="#D6D6D6"/>
<circle cx="326.3" cy="155.1" r="2.75" fill="#D6D6D6"/>
<circle cx="327.9" cy="154.6" r="2.75" fill="#D6D6D6"/>
<circle cx="330.6" cy="156.1" r="2.75" fill="#D6D6D6"/>
<circle cx="332.2" cy="154.6" r="2.75" fill="#D6D6D6"/>
<circle cx="334.1" cy="155.1" r="2.75" fill="#D6D6D6"/>
<circle cx="336.4" cy="156.0" r="2.75" fill="#D6D6D6"/>
<circle cx="338.2" cy="154.9" r="2.75" fill="#D6D6D6"/>
<circle cx="340.5" cy="155.5" r="2.75" fill="#D6D6D6"/>
<circle cx="343.9" cy="154.6" r="2.75" fill="#D6D6D6"/>
<circle cx="309.0" cy="157.5" r="2.75" fill="#D6D6D6"/>
<circle cx="312.1" cy="157.4" r="2.75" fill="#D6D6D6"/>
<circle cx="313.3" cy="158.1" r="2.75" fill="#D6D6D6"/>
<circle cx="316.6" cy="157.1" r="2.75" fill="#D6D6D6"/>
<circle cx="318.2" cy="158.2" r="2.75" fill="#D6D6D6"/>
<circle cx="320.3" cy="156.9" r="2.75" fill="#D6D6D6"/>
<circle cx="321.7" cy="158.2" r="2.75" fill="#D6D6D6"/>
<circle cx="325.2" cy="157.2" r="2.75" fill="#D6D6D6"/>
<circle cx="326.9" cy="157.4" r="2.75" fill="#D6D6D6"/>
<circle cx="328.7" cy="158.3" r="2.75" fill="#D6D6D6"/>
<circle cx="331.6" cy="156.9" r="2.75" fill="#D6D6D6"/>
<circle cx="332.6" cy="157.4" r="2.75" fill="#D6D6D6"/>
<circle cx="335.5" cy="157.9" r="2.75" fill="#D6D6D6"/>
<circle cx="338.3" cy="157.6" r="2.75" fill="#D6D6D6"/>
<circle cx="339.5" cy="156.8" r="2.75" fill="#D6D6D6"/>
<circle cx="308.6" cy="158.9" r="2.75" fill="#D6D6D6"/>
<circle cx="310.4" cy="159.5" r="2.75" fill="#D6D6D6"/>
<circle cx="313.4" cy="159.8" r="2.75" fill="#D6D6D6"/>
<circle cx="315.4" cy="159.2" r="2.75" fill="#D6D6D6"/>
<circle cx="317.5" cy="159.5" r="2.75" fill="#D6D6D6"/>
<circle cx="320.0" cy="158.9" r="2.75" fill="#D6D6D6"/>
<circle cx="322.0" cy="159.1" r="2.75" fill="#D6D6D6"/>
<circle cx="323.7" cy="159.6" r="2.75" fill="#D6D6D6"/>
<circle cx="325.2" cy="160.2" r="2.75" fill="#D6D6D6"/>
<circle cx="327.7" cy="159.3" r="2.75" fill="#D6D6D6"/>
<circle cx="329.4" cy="159.3" r="2.75" fill="#D6D6D6"/>
<circle cx="332.3" cy="160.0" r="2.75" fill="#D6D6D6"/>
<circle cx="334.3" cy="159.9" r="2.75" fill="#D6D6D6"/>
<circle cx="336.1" cy="159.4" r="2.75" fill="#D6D6D6"/>
<circle cx="306.9" cy="162.1" r="2.75" fill="#D6D6D6"/>
<circle cx="308.9" cy="161.3" r="2.75" fill="#D6D6D6"/>
<circle cx="311.9" cy="161.5" r="2.75" fill="#D6D6D6"/>
<circle cx="314.5" cy="161.9" r="2.75" fill="#D6D6D6"/>
<circle cx="316.3" cy="161.5" r="2.75" fill="#D6D6D6"/>
<circle cx="318.7" cy="161.1" r="2.75" fill="#D6D6D6"/>
<circle cx="319.7" cy="161.1" r="2.75" fill="#D6D6D6"/>
<circle cx="322.8" cy="162.2" r="2.75" fill="#D6D6D6"/>
<circle cx="324.1" cy="161.6" r="2.75" fill="#D6D6D6"/>
<circle cx="327.5" cy="162.0" r="2.75" fill="#D6D6D6"/>
<circle cx="328.4" cy="161.3" r="2.75" fill="#D6D6D6"/>
<circle cx="330.7" cy="161.1" r="2.75" fill="#D6D6D6"/>
<circle cx="333.3" cy="161.0" r="2.75" fill="#D6D6D6"/>
<circle cx="308.2" cy="164.5" r="2.75" fill="#D6D6D6"/>
<circle cx="311.0" cy="164.2" r="2.75" fill="#D6D6D6"/>
<circle cx="312.0" cy="164.5" r="2.75" fill="#D6D6D6"/>
<circle cx="315.5" cy="164.1" r="2.75" fill="#D6D6D6"/>
<circle cx="316.7" cy="164.0" r="2.75" fill="#D6D6D6"/>
<circle cx="318.6" cy="164.4" r="2.75" fill="#D6D6D6"/>
<circle cx="322.3" cy="164.0" r="2.75" fill="#D6D6D6"/>
<circle cx="324.0" cy="164.6" r="2.75" fill="#D6D6D6"/>
<circle cx="325.3" cy="164.8" r="2.75" fill="#D6D6D6"/>
<circle cx="328.2" cy="163.5" r="2.75" fill="#D6D6D6"/>
<circle cx="329.4" cy="163.5" r="2.75" fill="#D6D6D6"/>
<circle cx="332.5" cy="164.4" r="2.75" fill="#D6D6D6"/>
<circle cx="307.2" cy="165.4" r="2.75" fill="#D6D6D6"/>
<circle cx="308.5" cy="165.6" r="2.75" fill="#D6D6D6"/>
<circle cx="312.4" cy="167.0" r="2.75" fill="#D6D6D6"/>
<circle cx="314.0" cy="165.9" r="2.75" fill="#D6D6D6"/>
<circle cx="316.2" cy="166.6" r="2.75" fill="#D6D6D6"/>
<circle cx="317.9" cy="166.4" r="2.75" fill="#D6D6D6"/>
<circle cx="320.8" cy="165.3" r="2.75" fill="#D6D6D6"/>
<circle cx="322.0" cy="166.1" r="2.75" fill="#D6D6D6"/>
<circle cx="324.1" cy="166.0" r="2.75" fill="#D6D6D6"/>
<circle cx="327.0" cy="165.6" r="2.75" fill="#D6D6D6"/>
<circle cx="329.1" cy="165.8" r="2.75" fill="#D6D6D6"/>
<circle cx="331.4" cy="165.9" r="2.75" fill="#D6D6D6"/>
<circle cx="305.9" cy="169.1" r="2.75" fill="#D6D6D6"/>
<circle cx="307.9" cy="167.6" r="2.75" fill="#D6D6D6"/>
<circle cx="310.8" cy="169.1" r="2.75" fill="#D6D6D6"/>
<circle cx="313.0" cy="168.6" r="2.75" fill="#D6D6D6"/>
<circle cx="315.3" cy="168.0" r="2.75" fill="#D6D6D6"/>
<circle cx="317.2" cy="167.6" r="2.75" fill="#D6D6D6"/>
<circle cx="318.5" cy="168.3" r="2.75" fill="#D6D6D6"/>
<circle cx="321.4" cy="168.2" r="2.75" fill="#D6D6D6"/>
<circle cx="322.8" cy="168.8" r="2.75" fill="#D6D6D6"/>
<circle cx="325.8" cy="167.9" r="2.75" fill="#D6D6D6"/>
<circle cx="327.7" cy="168.2" r="2.75" fill="#D6D6D6"/>
<circle cx="329.7" cy="167.6" r="2.75" fill="#D6D6D6"/>
<circle cx="305.1" cy="169.8" r="2.75" fill="#D6D6D6"/>
<circle cx="306.3" cy="171.3" r="2.75" fill="#D6D6D6"/>
<circle cx="309.0" cy="170.6" r="2.75" fill="#D6D6D6"/>
<circle cx="312.3" cy="171.5" r="2.75" fill="#D6D6D6"/>
<circle cx="313.7" cy="170.1" r="2.75" fill="#D6D6D6"/>
<circle cx="315.5" cy="171.4" r="2.75" fill="#D6D6D6"/>
<circle cx="318.8" cy="170.1" r="2.75" fill="#D6D6D6"/>
<circle cx="320.9" cy="170.3" r="2.75" fill="#D6D6D6"/>
<circle cx="322.5" cy="170.0" r="2.75" fill="#D6D6D6"/>
<circle cx="325.4" cy="171.5" r="2.75" fill="#D6D6D6"/>
<circle cx="326.4" cy="170.8" r="2.75" fill="#D6D6D6"/>
<circle cx="304.5" cy="173.0" r="2.75" fill="#D6D6D6"/>
<circle cx="305.5" cy="172.4" r="2.75" fill="#D6D6D6"/>
<circle cx="309.0" cy="173.1" r="2.75" fill="#D6D6D6"/>
<circle cx="310.0" cy="173.1" r="2.75" fill="#D6D6D6"/>
<circle cx="311.9" cy="173.7" r="2.75" fill="#D6D6D6"/>
<circle cx="314.7" cy="172.9" r="2.75" fill="#D6D6D6"/>
<circle cx="317.1" cy="172.0" r="2.75" fill="#D6D6D6"/>
<circle cx="319.4" cy="172.4" r="2.75" fill="#D6D6D6"/>
<circle cx="321.0" cy="173.3" r="2.75" fill="#D6D6D6"/>
<circle cx="322.9" cy="172.4" r="2.75" fill="#D6D6D6"/>
<circle cx="304.8" cy="175.5" r="2.75" fill="#D6D6D6"/>
<circle cx="307.6" cy="175.5" r="2.75" fill="#D6D6D6"/>
<circle cx="308.8" cy="175.0" r="2.75" fill="#D6D6D6"/>
<circle cx="311.0" cy="175.1" r="2.75" fill="#D6D6D6"/>
<circle cx="313.7" cy="174.2" r="2.75" fill="#D6D6D6"/>
<circle cx="316.1" cy="175.4" r="2.75" fill="#D6D6D6"/>
<circle cx="318.2" cy="175.7" r="2.75" fill="#D6D6D6"/>
<circle cx="319.7" cy="174.4" r="2.75" fill="#D6D6D6"/>
<circle cx="321.6" cy="175.0" r="2.75" fill="#D6D6D6"/>
<circle cx="306.8" cy="176.4" r="2.75" fill="#D6D6D6"/>
<circle cx="308.2" cy="177.7" r="2.75" fill="#D6D6D6"/>
<circle cx="311.3" cy="176.6" r="2.75" fill="#D6D6D6"/>
<circle cx="312.5" cy="177.6" r="2.75" fill="#D6D6D6"/>
<circle cx="314.0" cy="176.7" r="2.75" fill="#D6D6D6"/>
<circle cx="317.7" cy="176.6" r="2.75" fill="#D6D6D6"/>
<circle cx="319.0" cy="176.8" r="2.75" fill="#D6D6D6"/>
<circle cx="321.3" cy="176.4" r="2.75" fill="#D6D6D6"/>
<circle cx="304.3" cy="178.9" r="2.75" fill="#D6D6D6"/>
<circle cx="306.6" cy="179.3" r="2.75" fill="#D6D6D6"/>
<circle cx="309.0" cy="179.3" r="2.75" fill="#D6D6D6"/>
<circle cx="312.4" cy="179.7" r="2.75" fill="#D6D6D6"/>
<circle cx="314.4" cy="178.9" r="2.75" fill="#D6D6D6"/>
<circle cx="315.7" cy="178.6" r="2.75" fill="#D6D6D6"/>
<circle cx="318.4" cy="179.2" r="2.75" fill="#D6D6D6"/>
<circle cx="303.9" cy="180.9" r="2.75" fill="#D6D6D6"/>
<circle cx="306.4" cy="181.2" r="2.75" fill="#D6D6D6"/>
<circle cx="308.6" cy="181.9" r="2.75" fill="#D6D6D6"/>
<circle cx="309.8" cy="181.1" r="2.75" fill="#D6D6D6"/>
<circle cx="312.2" cy="182.0" r="2.75" fill="#D6D6D6"/>
<circle cx="314.6" cy="181.4" r="2.75" fill="#D6D6D6"/>
<circle cx="304.3" cy="183.9" r="2.75" fill="#D6D6D6"/>
<circle cx="307.5" cy="183.9" r="2.75" fill="#D6D6D6"/>
<circle cx="309.7" cy="182.9" r="2.75" fill="#D6D6D6"/>
<circle cx="311.3" cy="183.6" r="2.75" fill="#D6D6D6"/>
<circle cx="293.5" cy="155.1" r="2.75" fill="#D6D6D6"/>
<circle cx="297.0" cy="154.0" r="2.75" fill="#D6D6D6"/>
<circle cx="298.0" cy="153.8" r="2.75" fill="#D6D6D6"/>
<circle cx="300.6" cy="154.7" r="2.75" fill="#D6D6D6"/>
<circle cx="290.8" cy="157.4" r="2.75" fill="#D6D6D6"/>
<circle cx="293.7" cy="156.7" r="2.75" fill="#D6D6D6"/>
<circle cx="295.3" cy="157.0" r="2.75" fill="#D6D6D6"/>
<circle cx="297.7" cy="156.3" r="2.75" fill="#D6D6D6"/>
<circle cx="298.8" cy="156.2" r="2.75" fill="#D6D6D6"/>
<circle cx="302.4" cy="156.5" r="2.75" fill="#D6D6D6"/>
<circle cx="291.2" cy="159.1" r="2.75" fill="#D6D6D6"/>
<circle cx="293.7" cy="158.7" r="2.75" fill="#D6D6D6"/>
<circle cx="295.3" cy="158.3" r="2.75" fill="#D6D6D6"/>
<circle cx="299.0" cy="158.8" r="2.75" fill="#D6D6D6"/>
<circle cx="299.7" cy="158.5" r="2.75" fill="#D6D6D6"/>
<circle cx="302.7" cy="160.0" r="2.75" fill="#D6D6D6"/>
<circle cx="291.2" cy="161.1" r="2.75" fill="#D6D6D6"/>
<circle cx="292.0" cy="161.4" r="2.75" fill="#D6D6D6"/>
<circle cx="295.3" cy="161.5" r="2.75" fill="#D6D6D6"/>
<circle cx="296.8" cy="162.1" r="2.75" fill="#D6D6D6"/>
<circle cx="300.1" cy="162.2" r="2.75" fill="#D6D6D6"/>
<circle cx="301.5" cy="161.9" r="2.75" fill="#D6D6D6"/>
<circle cx="293.0" cy="163.0" r="2.75" fill="#D6D6D6"/>
<circle cx="296.9" cy="162.6" r="2.75" fill="#D6D6D6"/>
<circle cx="298.3" cy="164.1" r="2.75" fill="#D6D6D6"/>
<circle cx="301.0" cy="163.9" r="2.75" fill="#D6D6D6"/>
<circle cx="302.5" cy="164.0" r="2.75" fill="#D6D6D6"/>
<circle cx="293.2" cy="165.3" r="2.75" fill="#D6D6D6"/>
<circle cx="295.7" cy="164.8" r="2.75" fill="#D6D6D6"/>
<circle cx="297.3" cy="165.2" r="2.75" fill="#D6D6D6"/>
<circle cx="299.2" cy="165.5" r="2.75" fill="#D6D6D6"/>
<circle cx="301.9" cy="166.3" r="2.75" fill="#D6D6D6"/>
<circle cx="294.3" cy="168.0" r="2.75" fill="#D6D6D6"/>
<circle cx="296.4" cy="167.3" r="2.75" fill="#D6D6D6"/>
<circle cx="297.6" cy="167.3" r="2.75" fill="#D6D6D6"/>
<circle cx="300.2" cy="167.8" r="2.75" fill="#D6D6D6"/>
<circle cx="301.8" cy="167.9" r="2.75" fill="#D6D6D6"/>
<circle cx="294.3" cy="171.0" r="2.75" fill="#D6D6D6"/>
<circle cx="297.1" cy="170.9" r="2.75" fill="#D6D6D6"/>
<circle cx="298.9" cy="169.9" r="2.75" fill="#D6D6D6"/>
<circle cx="302.0" cy="169.5" r="2.75" fill="#D6D6D6"/>
<circle cx="296.3" cy="173.0" r="2.75" fill="#D6D6D6"/>
<circle cx="298.9" cy="172.5" r="2.75" fill="#D6D6D6"/>
<circle cx="300.5" cy="172.4" r="2.75" fill="#D6D6D6"/>
<circle cx="302.0" cy="172.9" r="2.75" fill="#D6D6D6"/>
<circle cx="297.4" cy="174.4" r="2.75" fill="#D6D6D6"/>
<circle cx="299.6" cy="174.7" r="2.75" fill="#D6D6D6"/>
<circle cx="302.4" cy="173.9" r="2.75" fill="#D6D6D6"/>
<circle cx="299.1" cy="177.3" r="2.75" fill="#D6D6D6"/>
<circle cx="301.0" cy="176.7" r="2.75" fill="#D6D6D6"/>
<circle cx="299.9" cy="178.9" r="2.75" fill="#D6D6D6"/>
<circle cx="301.1" cy="179.4" r="2.75" fill="#D6D6D6"/>
<circle cx="300.7" cy="181.8" r="2.75" fill="#D6D6D6"/>
<circle cx="301.9" cy="182.0" r="2.75" fill="#D6D6D6"/>
<circle cx="301.0" cy="182.6" r="2.75" fill="#D6D6D6"/>
<circle cx="279.9" cy="104.0" r="2.75" fill="#D6D6D6"/>
<circle cx="282.5" cy="132.0" r="2.75" fill="#D6D6D6"/>
<circle cx="294.9" cy="132.0" r="2.75" fill="#D6D6D6"/>
<circle cx="295.7" cy="140.1" r="2.75" fill="#D6D6D6"/>
<circle cx="292.5" cy="141.7" r="2.75" fill="#D6D6D6"/>
<circle cx="289.3" cy="151.3" r="2.75" fill="#D6D6D6"/>
<circle cx="281.6" cy="155.0" r="2.75" fill="#D6D6D6"/>
<circle cx="282.0" cy="162.1" r="2.75" fill="#D6D6D6"/>
<circle cx="285.3" cy="167.7" r="2.75" fill="#D6D6D6"/>
<circle cx="309.7" cy="128.1" r="2.75" fill="#D6D6D6"/>
<circle cx="324.1" cy="57.1" r="2.75" fill="#D6D6D6"/>
<circle cx="342.5" cy="53.5" r="2.75" fill="#D6D6D6"/>
<circle cx="347.6" cy="55.6" r="2.75" fill="#D6D6D6"/>
<circle cx="327.4" cy="62.2" r="2.75" fill="#D6D6D6"/>
<circle cx="328.9" cy="65.9" r="2.75" fill="#D6D6D6"/>
<circle cx="319.1" cy="67.3" r="2.75" fill="#D6D6D6"/>
<circle cx="323.8" cy="87.2" r="2.75" fill="#D6D6D6"/>
<circle cx="327.2" cy="92.1" r="2.75" fill="#D6D6D6"/>
<circle cx="315.8" cy="94.8" r="2.75" fill="#D6D6D6"/>
<circle cx="322.0" cy="95.5" r="2.75" fill="#D6D6D6"/>
<circle cx="334.3" cy="95.8" r="2.75" fill="#D6D6D6"/>
<circle cx="317.2" cy="83.8" r="2.75" fill="#D6D6D6"/>
<circle cx="314.5" cy="100.3" r="2.75" fill="#D6D6D6"/>
<circle cx="320.4" cy="102.2" r="2.75" fill="#D6D6D6"/>
<circle cx="313.8" cy="117.8" r="2.75" fill="#D6D6D6"/>
<circle cx="316.7" cy="119.3" r="2.75" fill="#D6D6D6"/>
<circle cx="334.2" cy="112.7" r="2.75" fill="#D6D6D6"/>
<circle cx="340.8" cy="116.4" r="2.75" fill="#D6D6D6"/>
<circle cx="334.2" cy="120.8" r="2.75" fill="#D6D6D6"/>
<circle cx="330.6" cy="118.6" r="2.75" fill="#D6D6D6"/>
<circle cx="339.9" cy="166.6" r="2.75" fill="#D6D6D6"/>
<circle cx="348.7" cy="154.0" r="2.75" fill="#D6D6D6"/>
<circle cx="358.3" cy="144.1" r="2.75" fill="#D6D6D6"/>
<circle cx="358.0" cy="141.7" r="2.75" fill="#D6D6D6"/>
<circle cx="363.1" cy="139.3" r="2.75" fill="#D6D6D6"/>
<circle cx="358.3" cy="136.1" r="2.75" fill="#D6D6D6"/>
<circle cx="359.9" cy="131.2" r="2.75" fill="#D6D6D6"/>
<circle cx="350.3" cy="135.3" r="2.75" fill="#D6D6D6"/>
<circle cx="349.5" cy="127.2" r="2.75" fill="#D6D6D6"/>
<circle cx="340.7" cy="124.0" r="2.75" fill="#D6D6D6"/>
<circle cx="373.6" cy="134.5" r="2.75" fill="#D6D6D6"/>
<circle cx="386.4" cy="126.4" r="2.75" fill="#D6D6D6"/>
<circle cx="359.3" cy="127.8" r="2.75" fill="#D6D6D6"/>
<circle cx="363.4" cy="133.2" r="2.75" fill="#D6D6D6"/>
<circle cx="364.2" cy="138.3" r="2.75" fill="#D6D6D6"/>
<circle cx="355.5" cy="130.5" r="2.75" fill="#D6D6D6"/>
<circle cx="350.0" cy="134.5" r="2.75" fill="#D6D6D6"/>
<circle cx="349.0" cy="127.2" r="2.75" fill="#D6D6D6"/>
<circle cx="361.0" cy="130.0" r="2.75" fill="#D6D6D6"/>
<circle cx="362.5" cy="136.0" r="2.75" fill="#D6D6D6"/>
<circle cx="358.5" cy="133.0" r="2.75" fill="#D6D6D6"/>
<circle cx="357.0" cy="126.3" r="2.75" fill="#D6D6D6"/>
<circle cx="360.5" cy="126.5" r="2.75" fill="#D6D6D6"/>
<circle cx="364.0" cy="128.0" r="2.75" fill="#D6D6D6"/>
<circle cx="366.0" cy="131.5" r="2.75" fill="#D6D6D6"/>
<circle cx="357.5" cy="130.0" r="2.75" fill="#D6D6D6"/>
<circle cx="361.0" cy="133.5" r="2.75" fill="#D6D6D6"/>
<circle cx="364.5" cy="135.5" r="2.75" fill="#D6D6D6"/>
<circle cx="358.0" cy="137.0" r="2.75" fill="#D6D6D6"/>
<circle cx="361.5" cy="139.5" r="2.75" fill="#D6D6D6"/>
<circle cx="363.0" cy="125.0" r="2.75" fill="#D6D6D6"/>
<circle cx="355.0" cy="134.0" r="2.75" fill="#D6D6D6"/>
<circle cx="321.0" cy="106.0" r="2.75" fill="#D6D6D6"/>
<circle cx="318.0" cy="108.0" r="2.75" fill="#D6D6D6"/>
<circle cx="329.0" cy="112.0" r="2.75" fill="#D6D6D6"/>
<circle cx="322.0" cy="114.0" r="2.75" fill="#D6D6D6"/>
<circle cx="337.0" cy="108.0" r="2.75" fill="#D6D6D6"/>
<circle cx="338.0" cy="118.0" r="2.75" fill="#D6D6D6"/>
<circle cx="320.0" cy="118.0" r="2.75" fill="#D6D6D6"/>
<circle cx="326.0" cy="100.0" r="2.75" fill="#D6D6D6"/>
<circle cx="331.0" cy="104.0" r="2.75" fill="#D6D6D6"/>
<circle cx="312.0" cy="122.0" r="2.75" fill="#D6D6D6"/>
<circle cx="320.0" cy="122.0" r="2.75" fill="#D6D6D6"/>
<circle cx="326.0" cy="122.0" r="2.75" fill="#D6D6D6"/>
<circle cx="318.7" cy="103.3" r="2.75" fill="#D6D6D6"/>
<circle cx="338.7" cy="102.9" r="2.75" fill="#D6D6D6"/>
<circle cx="347.8" cy="112.4" r="2.75" fill="#D6D6D6"/>
<circle cx="342.4" cy="117.0" r="2.75" fill="#D6D6D6"/>
<circle cx="331.4" cy="121.5" r="2.75" fill="#D6D6D6"/>
<line x1="314.5" y1="106.9" x2="318.2" y2="110.1" stroke="#6a6a6a" stroke-width="0.6"/>
<line x1="306.5" y1="112.3" x2="318" y2="112.8" stroke="#6a6a6a" stroke-width="0.6"/>
<line x1="308.7" y1="123" x2="324" y2="119.7" stroke="#6a6a6a" stroke-width="0.6"/>
<line x1="329.9" y1="102.2" x2="332" y2="100.8" stroke="#6a6a6a" stroke-width="0.6"/>
<line x1="326.2" y1="111.3" x2="328.4" y2="111.7" stroke="#6a6a6a" stroke-width="0.6"/>
<circle cx="324.8" cy="41.8" r="2.75" fill="#2A0AF2"/>
<circle cx="318.4" cy="59.0" r="2.75" fill="#2A0AF2"/>
<circle cx="350.5" cy="62.6" r="2.75" fill="#2A0AF2"/>
<circle cx="330.7" cy="70.3" r="2.75" fill="#2A0AF2"/>
<circle cx="326.4" cy="72.6" r="2.75" fill="#2A0AF2"/>
<circle cx="363.4" cy="76.7" r="2.75" fill="#9E1711"/>
<circle cx="323.9" cy="80.0" r="2.75" fill="#9E1711"/>
<circle cx="321.3" cy="82.3" r="2.75" fill="#E22FF0"/>
<circle cx="341.0" cy="83.5" r="2.75" fill="#2A0AF2"/>
<circle cx="317.0" cy="88.6" r="2.75" fill="#2A0AF2"/>
<circle cx="341.8" cy="88.7" r="2.75" fill="#1F6A12"/>
<circle cx="342.8" cy="91.9" r="2.75" fill="#1F6A12"/>
<circle cx="326.6" cy="104.8" r="2.75" fill="#2A0AF2"/>
<circle cx="352.8" cy="107.3" r="2.75" fill="#5BD98B"/>
<circle cx="324.2" cy="109.1" r="2.75" fill="#8DC1FB"/>
<circle cx="318.8" cy="112.2" r="2.75" fill="#8DC1FB"/>
<circle cx="325.8" cy="116.4" r="2.75" fill="#1F6A12"/>
<circle cx="344.7" cy="120.3" r="2.75" fill="#9E1711"/>
<circle cx="355.1" cy="122.2" r="2.75" fill="#CB8B4D"/>
<circle cx="369.0" cy="129.7" r="2.75" fill="#CB8B4D"/>
<circle cx="409.4" cy="86.5" r="2.75" fill="#1F6A12"/>
<circle cx="388.4" cy="94.9" r="2.75" fill="#5BD98B"/>
<text x="328.9" y="44.1" font-size="7.35" text-anchor="start" fill="#1c1c1c">IRAK1</text>
<text x="311.8" y="59.7" font-size="7.35" text-anchor="end" fill="#1c1c1c">TRAF6</text>
<text x="353.7" y="62.7" font-size="7.35" text-anchor="start" fill="#1c1c1c">TICAM1</text>
<text x="334" y="71.4" font-size="7.35" text-anchor="start" fill="#1c1c1c">TNFRSF14</text>
<text x="320.9" y="75.4" font-size="7.35" text-anchor="end" fill="#1c1c1c">IL16</text>
<text x="368" y="78" font-size="7.35" text-anchor="start" fill="#1c1c1c">MAVS</text>
<text x="314.7" y="83.4" font-size="7.35" text-anchor="end" fill="#1c1c1c">HLA-DMB</text>
<text x="344.8" y="84.7" font-size="7.35" text-anchor="start" fill="#1c1c1c">SOCS3</text>
<text x="311.4" y="91.1" font-size="7.35" text-anchor="end" fill="#1c1c1c">TIRAP</text>
<text x="345.3" y="90.9" font-size="7.35" text-anchor="start" fill="#1c1c1c">CSF2RB</text>
<text x="346.9" y="97.2" font-size="7.35" text-anchor="start" fill="#1c1c1c">CSF3R</text>
<text x="332" y="104" font-size="7.35" text-anchor="start" fill="#1c1c1c">MYD88</text>
<text x="357.4" y="109.3" font-size="7.35" text-anchor="start" fill="#1c1c1c">ALOX15</text>
<text x="313.8" y="107.6" font-size="7.35" text-anchor="end" fill="#1c1c1c">CXCR4</text>
<text x="328.8" y="113.5" font-size="7.35" text-anchor="start" fill="#1c1c1c">CD4</text>
<text x="305.8" y="114.6" font-size="7.35" text-anchor="end" fill="#1c1c1c">CXCR3</text>
<text x="345.3" y="117.4" font-size="7.35" text-anchor="start" fill="#1c1c1c">HAVCR2</text>
<text x="306.9" y="122.7" font-size="7.35" text-anchor="end" fill="#1c1c1c">CD68</text>
<text x="359" y="124" font-size="7.35" text-anchor="start" fill="#1c1c1c">C1R</text>
<text x="373.6" y="134.5" font-size="7.35" text-anchor="start" fill="#1c1c1c">SERPING1</text>
<text x="400.8" y="82.8" font-size="7.35" text-anchor="start" fill="#1c1c1c">SIGLEC1</text>
<text x="392" y="97.5" font-size="7.35" text-anchor="start" fill="#1c1c1c">CHIT1</text>
<text x="394.3" y="108.9" font-size="7.8" text-anchor="start" fill="#1c1c1c">adj. p value&lt;0.01</text>
<text x="394.3" y="119.9" font-size="7.8" text-anchor="start" fill="#1c1c1c">adj. p value&lt;0.05</text>
</g>
<g id="legend">
<circle cx="492.6" cy="59.6" r="4.6" fill="#9E1711"/>
<text x="503" y="62.2" font-size="7.5" text-anchor="start" fill="#1c1c1c">Antiviral and IFN-related genes</text>
<circle cx="492.6" cy="73.3" r="4.6" fill="#1F6A12"/>
<text x="503" y="75.89999999999999" font-size="7.5" text-anchor="start" fill="#1c1c1c">Monocyte/Macrophage activation</text>
<circle cx="492.6" cy="87.0" r="4.6" fill="#2A0AF2"/>
<text x="503" y="89.6" font-size="7.5" text-anchor="start" fill="#1c1c1c">TLR and IL signaling</text>
<circle cx="492.6" cy="100.7" r="4.6" fill="#E22FF0"/>
<text x="503" y="103.29999999999998" font-size="7.5" text-anchor="start" fill="#1c1c1c">Antigen presentation</text>
<circle cx="492.6" cy="114.4" r="4.6" fill="#CB8B4D"/>
<text x="503" y="117.0" font-size="7.5" text-anchor="start" fill="#1c1c1c">Complement system</text>
<circle cx="492.6" cy="128.1" r="4.6" fill="#5BD98B"/>
<text x="503" y="130.7" font-size="7.5" text-anchor="start" fill="#1c1c1c">Metabolism</text>
<circle cx="492.6" cy="141.8" r="4.6" fill="#8DC1FB"/>
<text x="503" y="144.39999999999998" font-size="7.5" text-anchor="start" fill="#1c1c1c">T cell response</text>
</g>
<g id="heatmap">
<text x="0.4" y="238.5" font-size="14" text-anchor="start" fill="#000">c</text>
<rect x="55.90" y="287.30" width="8.68" height="9.71" fill="#D7E6F8"/>
<rect x="64.53" y="287.30" width="8.68" height="9.71" fill="#DFEBF9"/>
<rect x="73.15" y="287.30" width="8.68" height="9.71" fill="#ECF3FB"/>
<rect x="81.78" y="287.30" width="8.68" height="9.71" fill="#C7DCF5"/>
<rect x="90.40" y="287.30" width="8.68" height="9.71" fill="#D7E6F8"/>
<rect x="99.03" y="287.30" width="8.68" height="9.71" fill="#E4EEFA"/>
<rect x="107.65" y="287.30" width="8.68" height="9.71" fill="#DCE9F8"/>
<rect x="116.28" y="287.30" width="8.68" height="9.71" fill="#DCE9F8"/>
<rect x="124.90" y="287.30" width="8.68" height="9.71" fill="#DCE9F8"/>
<rect x="133.53" y="287.30" width="8.68" height="9.71" fill="#FFFFFF"/>
<rect x="142.15" y="287.30" width="8.68" height="9.71" fill="#DAE8F8"/>
<rect x="150.78" y="287.30" width="8.68" height="9.71" fill="#E7F0FA"/>
<rect x="159.40" y="287.30" width="8.68" height="9.71" fill="#DCE9F8"/>
<rect x="168.03" y="287.30" width="8.68" height="9.71" fill="#DAE8F8"/>
<rect x="176.65" y="287.30" width="8.68" height="9.71" fill="#FF1A0A"/>
<rect x="185.28" y="287.30" width="8.68" height="9.71" fill="#E9F1FB"/>
<rect x="193.90" y="287.30" width="8.68" height="9.71" fill="#CADEF5"/>
<rect x="202.53" y="287.30" width="8.68" height="9.71" fill="#CADEF5"/>
<rect x="211.15" y="287.30" width="8.68" height="9.71" fill="#DE5266"/>
<rect x="219.78" y="287.30" width="8.68" height="9.71" fill="#C2D9F4"/>
<rect x="228.40" y="287.30" width="8.68" height="9.71" fill="#DCE9F8"/>
<rect x="237.03" y="287.30" width="8.68" height="9.71" fill="#EFF5FC"/>
<rect x="245.65" y="287.30" width="8.68" height="9.71" fill="#DFEBF9"/>
<rect x="254.28" y="287.30" width="8.68" height="9.71" fill="#E4EEFA"/>
<rect x="262.90" y="287.30" width="8.68" height="9.71" fill="#CFE1F6"/>
<rect x="271.52" y="287.30" width="8.68" height="9.71" fill="#FF1A0A"/>
<rect x="280.15" y="287.30" width="8.68" height="9.71" fill="#B2BEE4"/>
<rect x="288.77" y="287.30" width="8.68" height="9.71" fill="#E8404E"/>
<rect x="297.40" y="287.30" width="8.68" height="9.71" fill="#DCE9F8"/>
<rect x="306.02" y="287.30" width="8.68" height="9.71" fill="#B6D2F2"/>
<rect x="55.90" y="296.96" width="8.68" height="9.71" fill="#B6D2F2"/>
<rect x="64.53" y="296.96" width="8.68" height="9.71" fill="#D5647E"/>
<rect x="73.15" y="296.96" width="8.68" height="9.71" fill="#BFD7F4"/>
<rect x="81.78" y="296.96" width="8.68" height="9.71" fill="#C193B6"/>
<rect x="90.40" y="296.96" width="8.68" height="9.71" fill="#D5647E"/>
<rect x="99.03" y="296.96" width="8.68" height="9.71" fill="#B5AFD6"/>
<rect x="107.65" y="296.96" width="8.68" height="9.71" fill="#CFE1F6"/>
<rect x="116.28" y="296.96" width="8.68" height="9.71" fill="#FF1A0A"/>
<rect x="124.90" y="296.96" width="8.68" height="9.71" fill="#CFE1F6"/>
<rect x="133.53" y="296.96" width="8.68" height="9.71" fill="#D7E6F8"/>
<rect x="142.15" y="296.96" width="8.68" height="9.71" fill="#DCE9F8"/>
<rect x="150.78" y="296.96" width="8.68" height="9.71" fill="#BCD5F3"/>
<rect x="159.40" y="296.96" width="8.68" height="9.71" fill="#C7DCF5"/>
<rect x="168.03" y="296.96" width="8.68" height="9.71" fill="#B6D2F2"/>
<rect x="176.65" y="296.96" width="8.68" height="9.71" fill="#C193B6"/>
<rect x="185.28" y="296.96" width="8.68" height="9.71" fill="#BE9ABE"/>
<rect x="193.90" y="296.96" width="8.68" height="9.71" fill="#BFD7F4"/>
<rect x="202.53" y="296.96" width="8.68" height="9.71" fill="#FF1A0A"/>
<rect x="211.15" y="296.96" width="8.68" height="9.71" fill="#CC7896"/>
<rect x="219.78" y="296.96" width="8.68" height="9.71" fill="#DCE9F8"/>
<rect x="228.40" y="296.96" width="8.68" height="9.71" fill="#CCDFF6"/>
<rect x="237.03" y="296.96" width="8.68" height="9.71" fill="#B6D2F2"/>
<rect x="245.65" y="296.96" width="8.68" height="9.71" fill="#E4EEFA"/>
<rect x="254.28" y="296.96" width="8.68" height="9.71" fill="#B5AFD6"/>
<rect x="262.90" y="296.96" width="8.68" height="9.71" fill="#DCE9F8"/>
<rect x="271.52" y="296.96" width="8.68" height="9.71" fill="#B0C4E9"/>
<rect x="280.15" y="296.96" width="8.68" height="9.71" fill="#E7F0FA"/>
<rect x="288.77" y="296.96" width="8.68" height="9.71" fill="#E8404E"/>
<rect x="297.40" y="296.96" width="8.68" height="9.71" fill="#FFFFFF"/>
<rect x="306.02" y="296.96" width="8.68" height="9.71" fill="#DCE9F8"/>
<rect x="55.90" y="306.62" width="8.68" height="9.71" fill="#ECF3FB"/>
<rect x="64.53" y="306.62" width="8.68" height="9.71" fill="#BFD7F4"/>
<rect x="73.15" y="306.62" width="8.68" height="9.71" fill="#CFE1F6"/>
<rect x="81.78" y="306.62" width="8.68" height="9.71" fill="#C48CAE"/>
<rect x="90.40" y="306.62" width="8.68" height="9.71" fill="#BFD7F4"/>
<rect x="99.03" y="306.62" width="8.68" height="9.71" fill="#CFE1F6"/>
<rect x="107.65" y="306.62" width="8.68" height="9.71" fill="#FFFFFF"/>
<rect x="116.28" y="306.62" width="8.68" height="9.71" fill="#D5647E"/>
<rect x="124.90" y="306.62" width="8.68" height="9.71" fill="#FFFFFF"/>
<rect x="133.53" y="306.62" width="8.68" height="9.71" fill="#FFFFFF"/>
<rect x="142.15" y="306.62" width="8.68" height="9.71" fill="#DCE9F8"/>
<rect x="150.78" y="306.62" width="8.68" height="9.71" fill="#DCE9F8"/>
<rect x="159.40" y="306.62" width="8.68" height="9.71" fill="#DFEBF9"/>
<rect x="168.03" y="306.62" width="8.68" height="9.71" fill="#BC9EC2"/>
<rect x="176.65" y="306.62" width="8.68" height="9.71" fill="#C2D9F4"/>
<rect x="185.28" y="306.62" width="8.68" height="9.71" fill="#B0C4E9"/>
<rect x="193.90" y="306.62" width="8.68" height="9.71" fill="#E4EEFA"/>
<rect x="202.53" y="306.62" width="8.68" height="9.71" fill="#FF1A0A"/>
<rect x="211.15" y="306.62" width="8.68" height="9.71" fill="#B6D2F2"/>
<rect x="219.78" y="306.62" width="8.68" height="9.71" fill="#DAE8F8"/>
<rect x="228.40" y="306.62" width="8.68" height="9.71" fill="#C7DCF5"/>
<rect x="237.03" y="306.62" width="8.68" height="9.71" fill="#BFD7F4"/>
<rect x="245.65" y="306.62" width="8.68" height="9.71" fill="#B6D2F2"/>
<rect x="254.28" y="306.62" width="8.68" height="9.71" fill="#D26C88"/>
<rect x="262.90" y="306.62" width="8.68" height="9.71" fill="#CFE1F6"/>
<rect x="271.52" y="306.62" width="8.68" height="9.71" fill="#BFD7F4"/>
<rect x="280.15" y="306.62" width="8.68" height="9.71" fill="#CFE1F6"/>
<rect x="288.77" y="306.62" width="8.68" height="9.71" fill="#C193B6"/>
<rect x="297.40" y="306.62" width="8.68" height="9.71" fill="#E7F0FA"/>
<rect x="306.02" y="306.62" width="8.68" height="9.71" fill="#CCDFF6"/>
<rect x="55.90" y="316.28" width="8.68" height="9.71" fill="#ECF3FB"/>
<rect x="64.53" y="316.28" width="8.68" height="9.71" fill="#C7DCF5"/>
<rect x="73.15" y="316.28" width="8.68" height="9.71" fill="#F3F8FD"/>
<rect x="81.78" y="316.28" width="8.68" height="9.71" fill="#B6ACD2"/>
<rect x="90.40" y="316.28" width="8.68" height="9.71" fill="#B6ACD2"/>
<rect x="99.03" y="316.28" width="8.68" height="9.71" fill="#DCE9F8"/>
<rect x="107.65" y="316.28" width="8.68" height="9.71" fill="#F0F6FC"/>
<rect x="116.28" y="316.28" width="8.68" height="9.71" fill="#DE5266"/>
<rect x="124.90" y="316.28" width="8.68" height="9.71" fill="#ECF3FB"/>
<rect x="133.53" y="316.28" width="8.68" height="9.71" fill="#FFFFFF"/>
<rect x="142.15" y="316.28" width="8.68" height="9.71" fill="#ECF3FB"/>
<rect x="150.78" y="316.28" width="8.68" height="9.71" fill="#DCE9F8"/>
<rect x="159.40" y="316.28" width="8.68" height="9.71" fill="#CCDFF6"/>
<rect x="168.03" y="316.28" width="8.68" height="9.71" fill="#BAD4F3"/>
<rect x="176.65" y="316.28" width="8.68" height="9.71" fill="#B0C4E9"/>
<rect x="185.28" y="316.28" width="8.68" height="9.71" fill="#CCDFF6"/>
<rect x="193.90" y="316.28" width="8.68" height="9.71" fill="#D7E6F8"/>
<rect x="202.53" y="316.28" width="8.68" height="9.71" fill="#FF1A0A"/>
<rect x="211.15" y="316.28" width="8.68" height="9.71" fill="#B6D2F2"/>
<rect x="219.78" y="316.28" width="8.68" height="9.71" fill="#CADEF5"/>
<rect x="228.40" y="316.28" width="8.68" height="9.71" fill="#DCE9F8"/>
<rect x="237.03" y="316.28" width="8.68" height="9.71" fill="#C7DCF5"/>
<rect x="245.65" y="316.28" width="8.68" height="9.71" fill="#FFFFFF"/>
<rect x="254.28" y="316.28" width="8.68" height="9.71" fill="#CC7896"/>
<rect x="262.90" y="316.28" width="8.68" height="9.71" fill="#E7F0FA"/>
<rect x="271.52" y="316.28" width="8.68" height="9.71" fill="#B1C1E6"/>
<rect x="280.15" y="316.28" width="8.68" height="9.71" fill="#C7DCF5"/>
<rect x="288.77" y="316.28" width="8.68" height="9.71" fill="#CC7896"/>
<rect x="297.40" y="316.28" width="8.68" height="9.71" fill="#EFF5FC"/>
<rect x="306.02" y="316.28" width="8.68" height="9.71" fill="#DAE8F8"/>
<rect x="55.90" y="325.94" width="8.68" height="9.71" fill="#E4EEFA"/>
<rect x="64.53" y="325.94" width="8.68" height="9.71" fill="#EFF5FC"/>
<rect x="73.15" y="325.94" width="8.68" height="9.71" fill="#FFFFFF"/>
<rect x="81.78" y="325.94" width="8.68" height="9.71" fill="#CFE1F6"/>
<rect x="90.40" y="325.94" width="8.68" height="9.71" fill="#CCDFF6"/>
<rect x="99.03" y="325.94" width="8.68" height="9.71" fill="#DCE9F8"/>
<rect x="107.65" y="325.94" width="8.68" height="9.71" fill="#ECF3FB"/>
<rect x="116.28" y="325.94" width="8.68" height="9.71" fill="#BBA1C6"/>
<rect x="124.90" y="325.94" width="8.68" height="9.71" fill="#C7DCF5"/>
<rect x="133.53" y="325.94" width="8.68" height="9.71" fill="#ECF3FB"/>
<rect x="142.15" y="325.94" width="8.68" height="9.71" fill="#C7DCF5"/>
<rect x="150.78" y="325.94" width="8.68" height="9.71" fill="#ECF3FB"/>
<rect x="159.40" y="325.94" width="8.68" height="9.71" fill="#BAA4CA"/>
<rect x="168.03" y="325.94" width="8.68" height="9.71" fill="#DCE9F8"/>
<rect x="176.65" y="325.94" width="8.68" height="9.71" fill="#C193B6"/>
<rect x="185.28" y="325.94" width="8.68" height="9.71" fill="#DAE8F8"/>
<rect x="193.90" y="325.94" width="8.68" height="9.71" fill="#CFE1F6"/>
<rect x="202.53" y="325.94" width="8.68" height="9.71" fill="#BC9EC2"/>
<rect x="211.15" y="325.94" width="8.68" height="9.71" fill="#C980A0"/>
<rect x="219.78" y="325.94" width="8.68" height="9.71" fill="#B4B5DB"/>
<rect x="228.40" y="325.94" width="8.68" height="9.71" fill="#DCE9F8"/>
<rect x="237.03" y="325.94" width="8.68" height="9.71" fill="#F0F6FC"/>
<rect x="245.65" y="325.94" width="8.68" height="9.71" fill="#C7DCF5"/>
<rect x="254.28" y="325.94" width="8.68" height="9.71" fill="#E4EEFA"/>
<rect x="262.90" y="325.94" width="8.68" height="9.71" fill="#C980A0"/>
<rect x="271.52" y="325.94" width="8.68" height="9.71" fill="#FF1A0A"/>
<rect x="280.15" y="325.94" width="8.68" height="9.71" fill="#ED3840"/>
<rect x="288.77" y="325.94" width="8.68" height="9.71" fill="#D26C88"/>
<rect x="297.40" y="325.94" width="8.68" height="9.71" fill="#B8A8CE"/>
<rect x="306.02" y="325.94" width="8.68" height="9.71" fill="#F42D2C"/>
<rect x="55.90" y="335.60" width="8.68" height="9.71" fill="#ECF3FB"/>
<rect x="64.53" y="335.60" width="8.68" height="9.71" fill="#EFF5FC"/>
<rect x="73.15" y="335.60" width="8.68" height="9.71" fill="#FFFFFF"/>
<rect x="81.78" y="335.60" width="8.68" height="9.71" fill="#B6D2F2"/>
<rect x="90.40" y="335.60" width="8.68" height="9.71" fill="#B3B8DE"/>
<rect x="99.03" y="335.60" width="8.68" height="9.71" fill="#E4EEFA"/>
<rect x="107.65" y="335.60" width="8.68" height="9.71" fill="#F8FAFE"/>
<rect x="116.28" y="335.60" width="8.68" height="9.71" fill="#DE5266"/>
<rect x="124.90" y="335.60" width="8.68" height="9.71" fill="#BFD7F4"/>
<rect x="133.53" y="335.60" width="8.68" height="9.71" fill="#FFFFFF"/>
<rect x="142.15" y="335.60" width="8.68" height="9.71" fill="#BAD4F3"/>
<rect x="150.78" y="335.60" width="8.68" height="9.71" fill="#F0F6FC"/>
<rect x="159.40" y="335.60" width="8.68" height="9.71" fill="#CC7896"/>
<rect x="168.03" y="335.60" width="8.68" height="9.71" fill="#D2E3F7"/>
<rect x="176.65" y="335.60" width="8.68" height="9.71" fill="#B5AFD6"/>
<rect x="185.28" y="335.60" width="8.68" height="9.71" fill="#CFE1F6"/>
<rect x="193.90" y="335.60" width="8.68" height="9.71" fill="#CFE1F6"/>
<rect x="202.53" y="335.60" width="8.68" height="9.71" fill="#ED3840"/>
<rect x="211.15" y="335.60" width="8.68" height="9.71" fill="#C980A0"/>
<rect x="219.78" y="335.60" width="8.68" height="9.71" fill="#B2BEE4"/>
<rect x="228.40" y="335.60" width="8.68" height="9.71" fill="#DFEBF9"/>
<rect x="237.03" y="335.60" width="8.68" height="9.71" fill="#F5F8FD"/>
<rect x="245.65" y="335.60" width="8.68" height="9.71" fill="#BFD7F4"/>
<rect x="254.28" y="335.60" width="8.68" height="9.71" fill="#DCE9F8"/>
<rect x="262.90" y="335.60" width="8.68" height="9.71" fill="#DB5970"/>
<rect x="271.52" y="335.60" width="8.68" height="9.71" fill="#FF1A0A"/>
<rect x="280.15" y="335.60" width="8.68" height="9.71" fill="#ED3840"/>
<rect x="288.77" y="335.60" width="8.68" height="9.71" fill="#E8404E"/>
<rect x="297.40" y="335.60" width="8.68" height="9.71" fill="#BAA4CA"/>
<rect x="306.02" y="335.60" width="8.68" height="9.71" fill="#F42D2C"/>
<rect x="55.90" y="345.26" width="8.68" height="9.71" fill="#ECF3FB"/>
<rect x="64.53" y="345.26" width="8.68" height="9.71" fill="#F8FAFE"/>
<rect x="73.15" y="345.26" width="8.68" height="9.71" fill="#FFFFFF"/>
<rect x="81.78" y="345.26" width="8.68" height="9.71" fill="#C7DCF5"/>
<rect x="90.40" y="345.26" width="8.68" height="9.71" fill="#BFD7F4"/>
<rect x="99.03" y="345.26" width="8.68" height="9.71" fill="#DCE9F8"/>
<rect x="107.65" y="345.26" width="8.68" height="9.71" fill="#F0F6FC"/>
<rect x="116.28" y="345.26" width="8.68" height="9.71" fill="#AECDF1"/>
<rect x="124.90" y="345.26" width="8.68" height="9.71" fill="#C7DCF5"/>
<rect x="133.53" y="345.26" width="8.68" height="9.71" fill="#F0F6FC"/>
<rect x="142.15" y="345.26" width="8.68" height="9.71" fill="#BFD7F4"/>
<rect x="150.78" y="345.26" width="8.68" height="9.71" fill="#F3F8FD"/>
<rect x="159.40" y="345.26" width="8.68" height="9.71" fill="#BC9EC2"/>
<rect x="168.03" y="345.26" width="8.68" height="9.71" fill="#D7E6F8"/>
<rect x="176.65" y="345.26" width="8.68" height="9.71" fill="#B5AFD6"/>
<rect x="185.28" y="345.26" width="8.68" height="9.71" fill="#D7E6F8"/>
<rect x="193.90" y="345.26" width="8.68" height="9.71" fill="#CFE1F6"/>
<rect x="202.53" y="345.26" width="8.68" height="9.71" fill="#BC9EC2"/>
<rect x="211.15" y="345.26" width="8.68" height="9.71" fill="#BC9EC2"/>
<rect x="219.78" y="345.26" width="8.68" height="9.71" fill="#B1C1E6"/>
<rect x="228.40" y="345.26" width="8.68" height="9.71" fill="#DCE9F8"/>
<rect x="237.03" y="345.26" width="8.68" height="9.71" fill="#F6FAFD"/>
<rect x="245.65" y="345.26" width="8.68" height="9.71" fill="#AECDF1"/>
<rect x="254.28" y="345.26" width="8.68" height="9.71" fill="#E4EEFA"/>
<rect x="262.90" y="345.26" width="8.68" height="9.71" fill="#C980A0"/>
<rect x="271.52" y="345.26" width="8.68" height="9.71" fill="#FF1A0A"/>
<rect x="280.15" y="345.26" width="8.68" height="9.71" fill="#EF353A"/>
<rect x="288.77" y="345.26" width="8.68" height="9.71" fill="#C980A0"/>
<rect x="297.40" y="345.26" width="8.68" height="9.71" fill="#BAA4CA"/>
<rect x="306.02" y="345.26" width="8.68" height="9.71" fill="#F42D2C"/>
<rect x="55.90" y="354.92" width="8.68" height="9.71" fill="#B4B5DB"/>
<rect x="64.53" y="354.92" width="8.68" height="9.71" fill="#C7DCF5"/>
<rect x="73.15" y="354.92" width="8.68" height="9.71" fill="#C7DCF5"/>
<rect x="81.78" y="354.92" width="8.68" height="9.71" fill="#C7DCF5"/>
<rect x="90.40" y="354.92" width="8.68" height="9.71" fill="#C48CAE"/>
<rect x="99.03" y="354.92" width="8.68" height="9.71" fill="#DCE9F8"/>
<rect x="107.65" y="354.92" width="8.68" height="9.71" fill="#C7DCF5"/>
<rect x="116.28" y="354.92" width="8.68" height="9.71" fill="#E24B5C"/>
<rect x="124.90" y="354.92" width="8.68" height="9.71" fill="#B6D2F2"/>
<rect x="133.53" y="354.92" width="8.68" height="9.71" fill="#D7E6F8"/>
<rect x="142.15" y="354.92" width="8.68" height="9.71" fill="#C7DCF5"/>
<rect x="150.78" y="354.92" width="8.68" height="9.71" fill="#C7DCF5"/>
<rect x="159.40" y="354.92" width="8.68" height="9.71" fill="#CC7896"/>
<rect x="168.03" y="354.92" width="8.68" height="9.71" fill="#F3F8FD"/>
<rect x="176.65" y="354.92" width="8.68" height="9.71" fill="#B2BEE4"/>
<rect x="185.28" y="354.92" width="8.68" height="9.71" fill="#BFD7F4"/>
<rect x="193.90" y="354.92" width="8.68" height="9.71" fill="#AECDF1"/>
<rect x="202.53" y="354.92" width="8.68" height="9.71" fill="#D26C88"/>
<rect x="211.15" y="354.92" width="8.68" height="9.71" fill="#C48CAE"/>
<rect x="219.78" y="354.92" width="8.68" height="9.71" fill="#D5647E"/>
<rect x="228.40" y="354.92" width="8.68" height="9.71" fill="#B2BEE4"/>
<rect x="237.03" y="354.92" width="8.68" height="9.71" fill="#DCE9F8"/>
<rect x="245.65" y="354.92" width="8.68" height="9.71" fill="#AECDF1"/>
<rect x="254.28" y="354.92" width="8.68" height="9.71" fill="#FFFFFF"/>
<rect x="262.90" y="354.92" width="8.68" height="9.71" fill="#FF1A0A"/>
<rect x="271.52" y="354.92" width="8.68" height="9.71" fill="#BC9EC2"/>
<rect x="280.15" y="354.92" width="8.68" height="9.71" fill="#DE5266"/>
<rect x="288.77" y="354.92" width="8.68" height="9.71" fill="#FA2218"/>
<rect x="297.40" y="354.92" width="8.68" height="9.71" fill="#ED3840"/>
<rect x="306.02" y="354.92" width="8.68" height="9.71" fill="#C980A0"/>
<rect x="55.90" y="364.58" width="8.68" height="9.71" fill="#E9F1FB"/>
<rect x="64.53" y="364.58" width="8.68" height="9.71" fill="#E9F1FB"/>
<rect x="73.15" y="364.58" width="8.68" height="9.71" fill="#F5F8FD"/>
<rect x="81.78" y="364.58" width="8.68" height="9.71" fill="#BFD7F4"/>
<rect x="90.40" y="364.58" width="8.68" height="9.71" fill="#B6D2F2"/>
<rect x="99.03" y="364.58" width="8.68" height="9.71" fill="#E4EEFA"/>
<rect x="107.65" y="364.58" width="8.68" height="9.71" fill="#F6FAFD"/>
<rect x="116.28" y="364.58" width="8.68" height="9.71" fill="#B6D2F2"/>
<rect x="124.90" y="364.58" width="8.68" height="9.71" fill="#C7DCF5"/>
<rect x="133.53" y="364.58" width="8.68" height="9.71" fill="#FFFFFF"/>
<rect x="142.15" y="364.58" width="8.68" height="9.71" fill="#CFE1F6"/>
<rect x="150.78" y="364.58" width="8.68" height="9.71" fill="#E4EEFA"/>
<rect x="159.40" y="364.58" width="8.68" height="9.71" fill="#B4B5DB"/>
<rect x="168.03" y="364.58" width="8.68" height="9.71" fill="#CFE1F6"/>
<rect x="176.65" y="364.58" width="8.68" height="9.71" fill="#E8404E"/>
<rect x="185.28" y="364.58" width="8.68" height="9.71" fill="#DAE8F8"/>
<rect x="193.90" y="364.58" width="8.68" height="9.71" fill="#DCE9F8"/>
<rect x="202.53" y="364.58" width="8.68" height="9.71" fill="#B2BEE4"/>
<rect x="211.15" y="364.58" width="8.68" height="9.71" fill="#CC7896"/>
<rect x="219.78" y="364.58" width="8.68" height="9.71" fill="#BC9EC2"/>
<rect x="228.40" y="364.58" width="8.68" height="9.71" fill="#E4EEFA"/>
<rect x="237.03" y="364.58" width="8.68" height="9.71" fill="#F0F6FC"/>
<rect x="245.65" y="364.58" width="8.68" height="9.71" fill="#B6D2F2"/>
<rect x="254.28" y="364.58" width="8.68" height="9.71" fill="#E7F0FA"/>
<rect x="262.90" y="364.58" width="8.68" height="9.71" fill="#D95D74"/>
<rect x="271.52" y="364.58" width="8.68" height="9.71" fill="#FF1A0A"/>
<rect x="280.15" y="364.58" width="8.68" height="9.71" fill="#DE5266"/>
<rect x="288.77" y="364.58" width="8.68" height="9.71" fill="#E44758"/>
<rect x="297.40" y="364.58" width="8.68" height="9.71" fill="#C48CAE"/>
<rect x="306.02" y="364.58" width="8.68" height="9.71" fill="#E44758"/>
<rect x="55.90" y="374.24" width="8.68" height="9.71" fill="#DCE9F8"/>
<rect x="64.53" y="374.24" width="8.68" height="9.71" fill="#E9F1FB"/>
<rect x="73.15" y="374.24" width="8.68" height="9.71" fill="#EFF5FC"/>
<rect x="81.78" y="374.24" width="8.68" height="9.71" fill="#CFE1F6"/>
<rect x="90.40" y="374.24" width="8.68" height="9.71" fill="#B6D2F2"/>
<rect x="99.03" y="374.24" width="8.68" height="9.71" fill="#DCE9F8"/>
<rect x="107.65" y="374.24" width="8.68" height="9.71" fill="#E9F1FB"/>
<rect x="116.28" y="374.24" width="8.68" height="9.71" fill="#CFE1F6"/>
<rect x="124.90" y="374.24" width="8.68" height="9.71" fill="#BFD7F4"/>
<rect x="133.53" y="374.24" width="8.68" height="9.71" fill="#ECF3FB"/>
<rect x="142.15" y="374.24" width="8.68" height="9.71" fill="#CFE1F6"/>
<rect x="150.78" y="374.24" width="8.68" height="9.71" fill="#E9F1FB"/>
<rect x="159.40" y="374.24" width="8.68" height="9.71" fill="#CC7896"/>
<rect x="168.03" y="374.24" width="8.68" height="9.71" fill="#DFEBF9"/>
<rect x="176.65" y="374.24" width="8.68" height="9.71" fill="#EF353A"/>
<rect x="185.28" y="374.24" width="8.68" height="9.71" fill="#D2E3F7"/>
<rect x="193.90" y="374.24" width="8.68" height="9.71" fill="#CFE1F6"/>
<rect x="202.53" y="374.24" width="8.68" height="9.71" fill="#DCE9F8"/>
<rect x="211.15" y="374.24" width="8.68" height="9.71" fill="#DE5266"/>
<rect x="219.78" y="374.24" width="8.68" height="9.71" fill="#C48CAE"/>
<rect x="228.40" y="374.24" width="8.68" height="9.71" fill="#C7DCF5"/>
<rect x="237.03" y="374.24" width="8.68" height="9.71" fill="#F1F6FC"/>
<rect x="245.65" y="374.24" width="8.68" height="9.71" fill="#B6D2F2"/>
<rect x="254.28" y="374.24" width="8.68" height="9.71" fill="#FFFFFF"/>
<rect x="262.90" y="374.24" width="8.68" height="9.71" fill="#DE5266"/>
<rect x="271.52" y="374.24" width="8.68" height="9.71" fill="#FF1A0A"/>
<rect x="280.15" y="374.24" width="8.68" height="9.71" fill="#E8404E"/>
<rect x="288.77" y="374.24" width="8.68" height="9.71" fill="#E24B5C"/>
<rect x="297.40" y="374.24" width="8.68" height="9.71" fill="#E24B5C"/>
<rect x="306.02" y="374.24" width="8.68" height="9.71" fill="#F8251E"/>
<rect x="55.90" y="383.90" width="8.68" height="9.71" fill="#DFEBF9"/>
<rect x="64.53" y="383.90" width="8.68" height="9.71" fill="#E9F1FB"/>
<rect x="73.15" y="383.90" width="8.68" height="9.71" fill="#EFF5FC"/>
<rect x="81.78" y="383.90" width="8.68" height="9.71" fill="#CFE1F6"/>
<rect x="90.40" y="383.90" width="8.68" height="9.71" fill="#CFE1F6"/>
<rect x="99.03" y="383.90" width="8.68" height="9.71" fill="#E4EEFA"/>
<rect x="107.65" y="383.90" width="8.68" height="9.71" fill="#E9F1FB"/>
<rect x="116.28" y="383.90" width="8.68" height="9.71" fill="#D7E6F8"/>
<rect x="124.90" y="383.90" width="8.68" height="9.71" fill="#E4EEFA"/>
<rect x="133.53" y="383.90" width="8.68" height="9.71" fill="#FFFFFF"/>
<rect x="142.15" y="383.90" width="8.68" height="9.71" fill="#DCE9F8"/>
<rect x="150.78" y="383.90" width="8.68" height="9.71" fill="#E9F1FB"/>
<rect x="159.40" y="383.90" width="8.68" height="9.71" fill="#C7DCF5"/>
<rect x="168.03" y="383.90" width="8.68" height="9.71" fill="#E4EEFA"/>
<rect x="176.65" y="383.90" width="8.68" height="9.71" fill="#E8404E"/>
<rect x="185.28" y="383.90" width="8.68" height="9.71" fill="#DAE8F8"/>
<rect x="193.90" y="383.90" width="8.68" height="9.71" fill="#D7E6F8"/>
<rect x="202.53" y="383.90" width="8.68" height="9.71" fill="#CFE1F6"/>
<rect x="211.15" y="383.90" width="8.68" height="9.71" fill="#C48CAE"/>
<rect x="219.78" y="383.90" width="8.68" height="9.71" fill="#C2D9F4"/>
<rect x="228.40" y="383.90" width="8.68" height="9.71" fill="#DCE9F8"/>
<rect x="237.03" y="383.90" width="8.68" height="9.71" fill="#F1F6FC"/>
<rect x="245.65" y="383.90" width="8.68" height="9.71" fill="#C7DCF5"/>
<rect x="254.28" y="383.90" width="8.68" height="9.71" fill="#E9F1FB"/>
<rect x="262.90" y="383.90" width="8.68" height="9.71" fill="#B6D2F2"/>
<rect x="271.52" y="383.90" width="8.68" height="9.71" fill="#FF1A0A"/>
<rect x="280.15" y="383.90" width="8.68" height="9.71" fill="#C193B6"/>
<rect x="288.77" y="383.90" width="8.68" height="9.71" fill="#E24B5C"/>
<rect x="297.40" y="383.90" width="8.68" height="9.71" fill="#BFD7F4"/>
<rect x="306.02" y="383.90" width="8.68" height="9.71" fill="#B5AFD6"/>
<rect x="55.90" y="393.56" width="8.68" height="9.71" fill="#F6FAFD"/>
<rect x="64.53" y="393.56" width="8.68" height="9.71" fill="#FFFFFF"/>
<rect x="73.15" y="393.56" width="8.68" height="9.71" fill="#F8FAFE"/>
<rect x="81.78" y="393.56" width="8.68" height="9.71" fill="#C7DCF5"/>
<rect x="90.40" y="393.56" width="8.68" height="9.71" fill="#BFD7F4"/>
<rect x="99.03" y="393.56" width="8.68" height="9.71" fill="#D7E6F8"/>
<rect x="107.65" y="393.56" width="8.68" height="9.71" fill="#F6FAFD"/>
<rect x="116.28" y="393.56" width="8.68" height="9.71" fill="#C48CAE"/>
<rect x="124.90" y="393.56" width="8.68" height="9.71" fill="#B6D2F2"/>
<rect x="133.53" y="393.56" width="8.68" height="9.71" fill="#E7F0FA"/>
<rect x="142.15" y="393.56" width="8.68" height="9.71" fill="#BC9EC2"/>
<rect x="150.78" y="393.56" width="8.68" height="9.71" fill="#EFF5FC"/>
<rect x="159.40" y="393.56" width="8.68" height="9.71" fill="#CC7896"/>
<rect x="168.03" y="393.56" width="8.68" height="9.71" fill="#D7E6F8"/>
<rect x="176.65" y="393.56" width="8.68" height="9.71" fill="#C7DCF5"/>
<rect x="185.28" y="393.56" width="8.68" height="9.71" fill="#DFEBF9"/>
<rect x="193.90" y="393.56" width="8.68" height="9.71" fill="#DCE9F8"/>
<rect x="202.53" y="393.56" width="8.68" height="9.71" fill="#D5647E"/>
<rect x="211.15" y="393.56" width="8.68" height="9.71" fill="#B1CFF2"/>
<rect x="219.78" y="393.56" width="8.68" height="9.71" fill="#BCD5F3"/>
<rect x="228.40" y="393.56" width="8.68" height="9.71" fill="#E4EEFA"/>
<rect x="237.03" y="393.56" width="8.68" height="9.71" fill="#FFFFFF"/>
<rect x="245.65" y="393.56" width="8.68" height="9.71" fill="#B1CFF2"/>
<rect x="254.28" y="393.56" width="8.68" height="9.71" fill="#E7F0FA"/>
<rect x="262.90" y="393.56" width="8.68" height="9.71" fill="#CC7896"/>
<rect x="271.52" y="393.56" width="8.68" height="9.71" fill="#FA2218"/>
<rect x="280.15" y="393.56" width="8.68" height="9.71" fill="#FF1A0A"/>
<rect x="288.77" y="393.56" width="8.68" height="9.71" fill="#B6D2F2"/>
<rect x="297.40" y="393.56" width="8.68" height="9.71" fill="#CC7896"/>
<rect x="306.02" y="393.56" width="8.68" height="9.71" fill="#FF1A0A"/>
<rect x="55.90" y="403.22" width="8.68" height="9.71" fill="#DCE9F8"/>
<rect x="64.53" y="403.22" width="8.68" height="9.71" fill="#F3F8FD"/>
<rect x="73.15" y="403.22" width="8.68" height="9.71" fill="#EFF5FC"/>
<rect x="81.78" y="403.22" width="8.68" height="9.71" fill="#BFD7F4"/>
<rect x="90.40" y="403.22" width="8.68" height="9.71" fill="#B1CFF2"/>
<rect x="99.03" y="403.22" width="8.68" height="9.71" fill="#DCE9F8"/>
<rect x="107.65" y="403.22" width="8.68" height="9.71" fill="#E4EEFA"/>
<rect x="116.28" y="403.22" width="8.68" height="9.71" fill="#B4B5DB"/>
<rect x="124.90" y="403.22" width="8.68" height="9.71" fill="#BAD4F3"/>
<rect x="133.53" y="403.22" width="8.68" height="9.71" fill="#E4EEFA"/>
<rect x="142.15" y="403.22" width="8.68" height="9.71" fill="#C7DCF5"/>
<rect x="150.78" y="403.22" width="8.68" height="9.71" fill="#ECF3FB"/>
<rect x="159.40" y="403.22" width="8.68" height="9.71" fill="#C193B6"/>
<rect x="168.03" y="403.22" width="8.68" height="9.71" fill="#DAE8F8"/>
<rect x="176.65" y="403.22" width="8.68" height="9.71" fill="#D26C88"/>
<rect x="185.28" y="403.22" width="8.68" height="9.71" fill="#D2E3F7"/>
<rect x="193.90" y="403.22" width="8.68" height="9.71" fill="#CFE1F6"/>
<rect x="202.53" y="403.22" width="8.68" height="9.71" fill="#B5AFD6"/>
<rect x="211.15" y="403.22" width="8.68" height="9.71" fill="#D26C88"/>
<rect x="219.78" y="403.22" width="8.68" height="9.71" fill="#B5AFD6"/>
<rect x="228.40" y="403.22" width="8.68" height="9.71" fill="#D7E6F8"/>
<rect x="237.03" y="403.22" width="8.68" height="9.71" fill="#FFFFFF"/>
<rect x="245.65" y="403.22" width="8.68" height="9.71" fill="#B1CFF2"/>
<rect x="254.28" y="403.22" width="8.68" height="9.71" fill="#ECF3FB"/>
<rect x="262.90" y="403.22" width="8.68" height="9.71" fill="#D26C88"/>
<rect x="271.52" y="403.22" width="8.68" height="9.71" fill="#FF1A0A"/>
<rect x="280.15" y="403.22" width="8.68" height="9.71" fill="#ED3840"/>
<rect x="288.77" y="403.22" width="8.68" height="9.71" fill="#D26C88"/>
<rect x="297.40" y="403.22" width="8.68" height="9.71" fill="#BC9EC2"/>
<rect x="306.02" y="403.22" width="8.68" height="9.71" fill="#EF353A"/>
<rect x="55.90" y="412.88" width="8.68" height="9.71" fill="#D7E6F8"/>
<rect x="64.53" y="412.88" width="8.68" height="9.71" fill="#E9F1FB"/>
<rect x="73.15" y="412.88" width="8.68" height="9.71" fill="#ECF3FB"/>
<rect x="81.78" y="412.88" width="8.68" height="9.71" fill="#D7E6F8"/>
<rect x="90.40" y="412.88" width="8.68" height="9.71" fill="#BAD4F3"/>
<rect x="99.03" y="412.88" width="8.68" height="9.71" fill="#DCE9F8"/>
<rect x="107.65" y="412.88" width="8.68" height="9.71" fill="#E7F0FA"/>
<rect x="116.28" y="412.88" width="8.68" height="9.71" fill="#AFC7EC"/>
<rect x="124.90" y="412.88" width="8.68" height="9.71" fill="#B6D2F2"/>
<rect x="133.53" y="412.88" width="8.68" height="9.71" fill="#F8FAFE"/>
<rect x="142.15" y="412.88" width="8.68" height="9.71" fill="#B6D2F2"/>
<rect x="150.78" y="412.88" width="8.68" height="9.71" fill="#E2EDFA"/>
<rect x="159.40" y="412.88" width="8.68" height="9.71" fill="#BAA4CA"/>
<rect x="168.03" y="412.88" width="8.68" height="9.71" fill="#DCE9F8"/>
<rect x="176.65" y="412.88" width="8.68" height="9.71" fill="#B5AFD6"/>
<rect x="185.28" y="412.88" width="8.68" height="9.71" fill="#D7E6F8"/>
<rect x="193.90" y="412.88" width="8.68" height="9.71" fill="#C7DCF5"/>
<rect x="202.53" y="412.88" width="8.68" height="9.71" fill="#BFD7F4"/>
<rect x="211.15" y="412.88" width="8.68" height="9.71" fill="#B8A8CE"/>
<rect x="219.78" y="412.88" width="8.68" height="9.71" fill="#C193B6"/>
<rect x="228.40" y="412.88" width="8.68" height="9.71" fill="#CFE1F6"/>
<rect x="237.03" y="412.88" width="8.68" height="9.71" fill="#FFFFFF"/>
<rect x="245.65" y="412.88" width="8.68" height="9.71" fill="#AECDF1"/>
<rect x="254.28" y="412.88" width="8.68" height="9.71" fill="#F8FAFE"/>
<rect x="262.90" y="412.88" width="8.68" height="9.71" fill="#E8404E"/>
<rect x="271.52" y="412.88" width="8.68" height="9.71" fill="#FF1A0A"/>
<rect x="280.15" y="412.88" width="8.68" height="9.71" fill="#F42D2C"/>
<rect x="288.77" y="412.88" width="8.68" height="9.71" fill="#D5647E"/>
<rect x="297.40" y="412.88" width="8.68" height="9.71" fill="#DB5970"/>
<rect x="306.02" y="412.88" width="8.68" height="9.71" fill="#F42D2C"/>
<rect x="55.90" y="422.54" width="8.68" height="9.71" fill="#ECF3FB"/>
<rect x="64.53" y="422.54" width="8.68" height="9.71" fill="#F5F8FD"/>
<rect x="73.15" y="422.54" width="8.68" height="9.71" fill="#F3F8FD"/>
<rect x="81.78" y="422.54" width="8.68" height="9.71" fill="#C7DCF5"/>
<rect x="90.40" y="422.54" width="8.68" height="9.71" fill="#BCD5F3"/>
<rect x="99.03" y="422.54" width="8.68" height="9.71" fill="#DFEBF9"/>
<rect x="107.65" y="422.54" width="8.68" height="9.71" fill="#FFFFFF"/>
<rect x="116.28" y="422.54" width="8.68" height="9.71" fill="#BC9EC2"/>
<rect x="124.90" y="422.54" width="8.68" height="9.71" fill="#C7DCF5"/>
<rect x="133.53" y="422.54" width="8.68" height="9.71" fill="#ECF3FB"/>
<rect x="142.15" y="422.54" width="8.68" height="9.71" fill="#C7DCF5"/>
<rect x="150.78" y="422.54" width="8.68" height="9.71" fill="#EFF5FC"/>
<rect x="159.40" y="422.54" width="8.68" height="9.71" fill="#C48CAE"/>
<rect x="168.03" y="422.54" width="8.68" height="9.71" fill="#DCE9F8"/>
<rect x="176.65" y="422.54" width="8.68" height="9.71" fill="#BFD7F4"/>
<rect x="185.28" y="422.54" width="8.68" height="9.71" fill="#D2E3F7"/>
<rect x="193.90" y="422.54" width="8.68" height="9.71" fill="#CFE1F6"/>
<rect x="202.53" y="422.54" width="8.68" height="9.71" fill="#BC9EC2"/>
<rect x="211.15" y="422.54" width="8.68" height="9.71" fill="#C193B6"/>
<rect x="219.78" y="422.54" width="8.68" height="9.71" fill="#BAA4CA"/>
<rect x="228.40" y="422.54" width="8.68" height="9.71" fill="#E4EEFA"/>
<rect x="237.03" y="422.54" width="8.68" height="9.71" fill="#F5F8FD"/>
<rect x="245.65" y="422.54" width="8.68" height="9.71" fill="#B4B5DB"/>
<rect x="254.28" y="422.54" width="8.68" height="9.71" fill="#E7F0FA"/>
<rect x="262.90" y="422.54" width="8.68" height="9.71" fill="#E44758"/>
<rect x="271.52" y="422.54" width="8.68" height="9.71" fill="#F42D2C"/>
<rect x="280.15" y="422.54" width="8.68" height="9.71" fill="#F13133"/>
<rect x="288.77" y="422.54" width="8.68" height="9.71" fill="#CC7896"/>
<rect x="297.40" y="422.54" width="8.68" height="9.71" fill="#D26C88"/>
<rect x="306.02" y="422.54" width="8.68" height="9.71" fill="#FF1A0A"/>
<rect x="55.90" y="432.20" width="8.68" height="9.71" fill="#ECF3FB"/>
<rect x="64.53" y="432.20" width="8.68" height="9.71" fill="#EFF5FC"/>
<rect x="73.15" y="432.20" width="8.68" height="9.71" fill="#F1F6FC"/>
<rect x="81.78" y="432.20" width="8.68" height="9.71" fill="#BCD5F3"/>
<rect x="90.40" y="432.20" width="8.68" height="9.71" fill="#BAD4F3"/>
<rect x="99.03" y="432.20" width="8.68" height="9.71" fill="#E4EEFA"/>
<rect x="107.65" y="432.20" width="8.68" height="9.71" fill="#FFFFFF"/>
<rect x="116.28" y="432.20" width="8.68" height="9.71" fill="#BC9EC2"/>
<rect x="124.90" y="432.20" width="8.68" height="9.71" fill="#C7DCF5"/>
<rect x="133.53" y="432.20" width="8.68" height="9.71" fill="#EFF5FC"/>
<rect x="142.15" y="432.20" width="8.68" height="9.71" fill="#C7DCF5"/>
<rect x="150.78" y="432.20" width="8.68" height="9.71" fill="#F0F6FC"/>
<rect x="159.40" y="432.20" width="8.68" height="9.71" fill="#C193B6"/>
<rect x="168.03" y="432.20" width="8.68" height="9.71" fill="#DCE9F8"/>
<rect x="176.65" y="432.20" width="8.68" height="9.71" fill="#C7DCF5"/>
<rect x="185.28" y="432.20" width="8.68" height="9.71" fill="#DAE8F8"/>
<rect x="193.90" y="432.20" width="8.68" height="9.71" fill="#D2E3F7"/>
<rect x="202.53" y="432.20" width="8.68" height="9.71" fill="#C784A4"/>
<rect x="211.15" y="432.20" width="8.68" height="9.71" fill="#C48CAE"/>
<rect x="219.78" y="432.20" width="8.68" height="9.71" fill="#BAA4CA"/>
<rect x="228.40" y="432.20" width="8.68" height="9.71" fill="#E4EEFA"/>
<rect x="237.03" y="432.20" width="8.68" height="9.71" fill="#F6FAFD"/>
<rect x="245.65" y="432.20" width="8.68" height="9.71" fill="#B4B5DB"/>
<rect x="254.28" y="432.20" width="8.68" height="9.71" fill="#EFF5FC"/>
<rect x="262.90" y="432.20" width="8.68" height="9.71" fill="#ED3840"/>
<rect x="271.52" y="432.20" width="8.68" height="9.71" fill="#F62925"/>
<rect x="280.15" y="432.20" width="8.68" height="9.71" fill="#F13133"/>
<rect x="288.77" y="432.20" width="8.68" height="9.71" fill="#C48CAE"/>
<rect x="297.40" y="432.20" width="8.68" height="9.71" fill="#D5647E"/>
<rect x="306.02" y="432.20" width="8.68" height="9.71" fill="#FF1A0A"/>
<rect x="55.90" y="441.86" width="8.68" height="9.71" fill="#E9F1FB"/>
<rect x="64.53" y="441.86" width="8.68" height="9.71" fill="#ECF3FB"/>
<rect x="73.15" y="441.86" width="8.68" height="9.71" fill="#FFFFFF"/>
<rect x="81.78" y="441.86" width="8.68" height="9.71" fill="#B1CFF2"/>
<rect x="90.40" y="441.86" width="8.68" height="9.71" fill="#C193B6"/>
<rect x="99.03" y="441.86" width="8.68" height="9.71" fill="#E7F0FA"/>
<rect x="107.65" y="441.86" width="8.68" height="9.71" fill="#F8FAFE"/>
<rect x="116.28" y="441.86" width="8.68" height="9.71" fill="#E04E61"/>
<rect x="124.90" y="441.86" width="8.68" height="9.71" fill="#C7DCF5"/>
<rect x="133.53" y="441.86" width="8.68" height="9.71" fill="#F3F8FD"/>
<rect x="142.15" y="441.86" width="8.68" height="9.71" fill="#C7DCF5"/>
<rect x="150.78" y="441.86" width="8.68" height="9.71" fill="#EDF4FC"/>
<rect x="159.40" y="441.86" width="8.68" height="9.71" fill="#D5647E"/>
<rect x="168.03" y="441.86" width="8.68" height="9.71" fill="#DAE8F8"/>
<rect x="176.65" y="441.86" width="8.68" height="9.71" fill="#B2BEE4"/>
<rect x="185.28" y="441.86" width="8.68" height="9.71" fill="#CFE1F6"/>
<rect x="193.90" y="441.86" width="8.68" height="9.71" fill="#BFD7F4"/>
<rect x="202.53" y="441.86" width="8.68" height="9.71" fill="#FA2218"/>
<rect x="211.15" y="441.86" width="8.68" height="9.71" fill="#E8404E"/>
<rect x="219.78" y="441.86" width="8.68" height="9.71" fill="#C980A0"/>
<rect x="228.40" y="441.86" width="8.68" height="9.71" fill="#DFEBF9"/>
<rect x="237.03" y="441.86" width="8.68" height="9.71" fill="#EFF5FC"/>
<rect x="245.65" y="441.86" width="8.68" height="9.71" fill="#AECDF1"/>
<rect x="254.28" y="441.86" width="8.68" height="9.71" fill="#DCE9F8"/>
<rect x="262.90" y="441.86" width="8.68" height="9.71" fill="#FA2218"/>
<rect x="271.52" y="441.86" width="8.68" height="9.71" fill="#FD1E11"/>
<rect x="280.15" y="441.86" width="8.68" height="9.71" fill="#FF1A0A"/>
<rect x="288.77" y="441.86" width="8.68" height="9.71" fill="#F42D2C"/>
<rect x="297.40" y="441.86" width="8.68" height="9.71" fill="#D26C88"/>
<rect x="306.02" y="441.86" width="8.68" height="9.71" fill="#FF1A0A"/>
<line x1="55.90" y1="287.3" x2="55.90" y2="451.52" stroke="#203040" stroke-width="0.6" stroke-opacity="0.16"/>
<line x1="64.53" y1="287.3" x2="64.53" y2="451.52" stroke="#203040" stroke-width="0.6" stroke-opacity="0.16"/>
<line x1="73.15" y1="287.3" x2="73.15" y2="451.52" stroke="#203040" stroke-width="0.6" stroke-opacity="0.16"/>
<line x1="81.78" y1="287.3" x2="81.78" y2="451.52" stroke="#203040" stroke-width="0.6" stroke-opacity="0.16"/>
<line x1="90.40" y1="287.3" x2="90.40" y2="451.52" stroke="#7C7C7C" stroke-width="0.9"/>
<line x1="99.03" y1="287.3" x2="99.03" y2="451.52" stroke="#203040" stroke-width="0.6" stroke-opacity="0.16"/>
<line x1="107.65" y1="287.3" x2="107.65" y2="451.52" stroke="#203040" stroke-width="0.6" stroke-opacity="0.16"/>
<line x1="116.28" y1="287.3" x2="116.28" y2="451.52" stroke="#203040" stroke-width="0.6" stroke-opacity="0.16"/>
<line x1="124.90" y1="287.3" x2="124.90" y2="451.52" stroke="#203040" stroke-width="0.6" stroke-opacity="0.16"/>
<line x1="133.53" y1="287.3" x2="133.53" y2="451.52" stroke="#203040" stroke-width="0.6" stroke-opacity="0.16"/>
<line x1="142.15" y1="287.3" x2="142.15" y2="451.52" stroke="#7C7C7C" stroke-width="0.9"/>
<line x1="150.78" y1="287.3" x2="150.78" y2="451.52" stroke="#203040" stroke-width="0.6" stroke-opacity="0.16"/>
<line x1="159.40" y1="287.3" x2="159.40" y2="451.52" stroke="#203040" stroke-width="0.6" stroke-opacity="0.16"/>
<line x1="168.03" y1="287.3" x2="168.03" y2="451.52" stroke="#203040" stroke-width="0.6" stroke-opacity="0.16"/>
<line x1="176.65" y1="287.3" x2="176.65" y2="451.52" stroke="#7C7C7C" stroke-width="0.9"/>
<line x1="185.28" y1="287.3" x2="185.28" y2="451.52" stroke="#203040" stroke-width="0.6" stroke-opacity="0.16"/>
<line x1="193.90" y1="287.3" x2="193.90" y2="451.52" stroke="#203040" stroke-width="0.6" stroke-opacity="0.16"/>
<line x1="202.53" y1="287.3" x2="202.53" y2="451.52" stroke="#203040" stroke-width="0.6" stroke-opacity="0.16"/>
<line x1="211.15" y1="287.3" x2="211.15" y2="451.52" stroke="#203040" stroke-width="0.6" stroke-opacity="0.16"/>
<line x1="219.78" y1="287.3" x2="219.78" y2="451.52" stroke="#203040" stroke-width="0.6" stroke-opacity="0.16"/>
<line x1="228.40" y1="287.3" x2="228.40" y2="451.52" stroke="#7C7C7C" stroke-width="0.9"/>
<line x1="237.03" y1="287.3" x2="237.03" y2="451.52" stroke="#203040" stroke-width="0.6" stroke-opacity="0.16"/>
<line x1="245.65" y1="287.3" x2="245.65" y2="451.52" stroke="#203040" stroke-width="0.6" stroke-opacity="0.16"/>
<line x1="254.28" y1="287.3" x2="254.28" y2="451.52" stroke="#203040" stroke-width="0.6" stroke-opacity="0.16"/>
<line x1="262.90" y1="287.3" x2="262.90" y2="451.52" stroke="#7C7C7C" stroke-width="0.9"/>
<line x1="271.52" y1="287.3" x2="271.52" y2="451.52" stroke="#203040" stroke-width="0.6" stroke-opacity="0.16"/>
<line x1="280.15" y1="287.3" x2="280.15" y2="451.52" stroke="#203040" stroke-width="0.6" stroke-opacity="0.16"/>
<line x1="288.77" y1="287.3" x2="288.77" y2="451.52" stroke="#203040" stroke-width="0.6" stroke-opacity="0.16"/>
<line x1="297.40" y1="287.3" x2="297.40" y2="451.52" stroke="#203040" stroke-width="0.6" stroke-opacity="0.16"/>
<line x1="306.02" y1="287.3" x2="306.02" y2="451.52" stroke="#203040" stroke-width="0.6" stroke-opacity="0.16"/>
<line x1="314.65" y1="287.3" x2="314.65" y2="451.52" stroke="#203040" stroke-width="0.6" stroke-opacity="0.16"/>
<line x1="55.9" y1="287.30" x2="314.65" y2="287.30" stroke="#203040" stroke-width="0.6" stroke-opacity="0.16"/>
<line x1="55.9" y1="296.96" x2="314.65" y2="296.96" stroke="#203040" stroke-width="0.6" stroke-opacity="0.16"/>
<line x1="55.9" y1="306.62" x2="314.65" y2="306.62" stroke="#203040" stroke-width="0.6" stroke-opacity="0.16"/>
<line x1="55.9" y1="316.28" x2="314.65" y2="316.28" stroke="#203040" stroke-width="0.6" stroke-opacity="0.16"/>
<line x1="55.9" y1="325.94" x2="314.65" y2="325.94" stroke="#203040" stroke-width="0.6" stroke-opacity="0.16"/>
<line x1="55.9" y1="335.60" x2="314.65" y2="335.60" stroke="#203040" stroke-width="0.6" stroke-opacity="0.16"/>
<line x1="55.9" y1="345.26" x2="314.65" y2="345.26" stroke="#203040" stroke-width="0.6" stroke-opacity="0.16"/>
<line x1="55.9" y1="354.92" x2="314.65" y2="354.92" stroke="#203040" stroke-width="0.6" stroke-opacity="0.16"/>
<line x1="55.9" y1="364.58" x2="314.65" y2="364.58" stroke="#203040" stroke-width="0.6" stroke-opacity="0.16"/>
<line x1="55.9" y1="374.24" x2="314.65" y2="374.24" stroke="#203040" stroke-width="0.6" stroke-opacity="0.16"/>
<line x1="55.9" y1="383.90" x2="314.65" y2="383.90" stroke="#203040" stroke-width="0.6" stroke-opacity="0.16"/>
<line x1="55.9" y1="393.56" x2="314.65" y2="393.56" stroke="#203040" stroke-width="0.6" stroke-opacity="0.16"/>
<line x1="55.9" y1="403.22" x2="314.65" y2="403.22" stroke="#203040" stroke-width="0.6" stroke-opacity="0.16"/>
<line x1="55.9" y1="412.88" x2="314.65" y2="412.88" stroke="#203040" stroke-width="0.6" stroke-opacity="0.16"/>
<line x1="55.9" y1="422.54" x2="314.65" y2="422.54" stroke="#203040" stroke-width="0.6" stroke-opacity="0.16"/>
<line x1="55.9" y1="432.20" x2="314.65" y2="432.20" stroke="#203040" stroke-width="0.6" stroke-opacity="0.16"/>
<line x1="55.9" y1="441.86" x2="314.65" y2="441.86" stroke="#203040" stroke-width="0.6" stroke-opacity="0.16"/>
<line x1="55.9" y1="451.52" x2="314.65" y2="451.52" stroke="#203040" stroke-width="0.6" stroke-opacity="0.16"/>
<rect x="55.9" y="287.3" width="258.75" height="164.22" fill="none" stroke="#9A9A9A" stroke-width="0.8"/>
<line x1="57.0" y1="241.3" x2="141.7" y2="241.3" stroke="#222" stroke-width="1.1"/>
<line x1="57.0" y1="253.3" x2="89.7" y2="253.3" stroke="#222" stroke-width="1.1"/>
<line x1="91.3" y1="253.3" x2="141.7" y2="253.3" stroke="#222" stroke-width="1.1"/>
<text x="95.2" y="239.3" font-size="7.45" text-anchor="middle" fill="#1c1c1c">Day 0</text>
<text x="72.8" y="251.7" font-size="7.45" text-anchor="middle" fill="#1c1c1c">Sham</text>
<text x="114.4" y="251.7" font-size="7.45" text-anchor="middle" fill="#1c1c1c">YF-ZIK</text>
<text x="62.71" y="284.4" font-size="7.3" text-anchor="start" fill="#1c1c1c" transform="rotate(-90 62.71 284.4)">R09021</text>
<text x="71.34" y="284.4" font-size="7.3" text-anchor="start" fill="#1c1c1c" transform="rotate(-90 71.34 284.4)">R13138</text>
<text x="79.96" y="284.4" font-size="7.3" text-anchor="start" fill="#1c1c1c" transform="rotate(-90 79.96 284.4)">R15015</text>
<text x="88.59" y="284.4" font-size="7.3" text-anchor="start" fill="#1c1c1c" transform="rotate(-90 88.59 284.4)">R04173</text>
<text x="97.21" y="284.4" font-size="7.3" text-anchor="start" fill="#1c1c1c" transform="rotate(-90 97.21 284.4)">R08024</text>
<text x="105.84" y="284.4" font-size="7.3" text-anchor="start" fill="#1c1c1c" transform="rotate(-90 105.84 284.4)">R09146</text>
<text x="114.46" y="284.4" font-size="7.3" text-anchor="start" fill="#1c1c1c" transform="rotate(-90 114.46 284.4)">R13010</text>
<text x="123.09" y="284.4" font-size="7.3" text-anchor="start" fill="#1c1c1c" transform="rotate(-90 123.09 284.4)">R13151</text>
<text x="131.71" y="284.4" font-size="7.3" text-anchor="start" fill="#1c1c1c" transform="rotate(-90 131.71 284.4)">R14166</text>
<text x="140.34" y="284.4" font-size="7.3" text-anchor="start" fill="#1c1c1c" transform="rotate(-90 140.34 284.4)">R10128</text>
<line x1="143.6" y1="241.3" x2="228.0" y2="241.3" stroke="#222" stroke-width="1.1"/>
<line x1="143.6" y1="253.3" x2="176.2" y2="253.3" stroke="#222" stroke-width="1.1"/>
<line x1="178.2" y1="253.3" x2="228.0" y2="253.3" stroke="#222" stroke-width="1.1"/>
<text x="185.6" y="239.3" font-size="7.45" text-anchor="middle" fill="#1c1c1c">Day 1</text>
<text x="158.1" y="251.7" font-size="7.45" text-anchor="middle" fill="#1c1c1c">Sham</text>
<text x="201.7" y="251.7" font-size="7.45" text-anchor="middle" fill="#1c1c1c">YF-ZIK</text>
<text x="148.96" y="284.4" font-size="7.3" text-anchor="start" fill="#1c1c1c" transform="rotate(-90 148.96 284.4)">R09021</text>
<text x="157.59" y="284.4" font-size="7.3" text-anchor="start" fill="#1c1c1c" transform="rotate(-90 157.59 284.4)">R13138</text>
<text x="166.21" y="284.4" font-size="7.3" text-anchor="start" fill="#1c1c1c" transform="rotate(-90 166.21 284.4)">R15015</text>
<text x="174.84" y="284.4" font-size="7.3" text-anchor="start" fill="#1c1c1c" transform="rotate(-90 174.84 284.4)">R04173</text>
<text x="183.46" y="284.4" font-size="7.3" text-anchor="start" fill="#1c1c1c" transform="rotate(-90 183.46 284.4)">R08024</text>
<text x="192.09" y="284.4" font-size="7.3" text-anchor="start" fill="#1c1c1c" transform="rotate(-90 192.09 284.4)">R09146</text>
<text x="200.71" y="284.4" font-size="7.3" text-anchor="start" fill="#1c1c1c" transform="rotate(-90 200.71 284.4)">R13010</text>
<text x="209.34" y="284.4" font-size="7.3" text-anchor="start" fill="#1c1c1c" transform="rotate(-90 209.34 284.4)">R13151</text>
<text x="217.96" y="284.4" font-size="7.3" text-anchor="start" fill="#1c1c1c" transform="rotate(-90 217.96 284.4)">R14166</text>
<text x="226.59" y="284.4" font-size="7.3" text-anchor="start" fill="#1c1c1c" transform="rotate(-90 226.59 284.4)">R10128</text>
<line x1="230.1" y1="241.3" x2="313.8" y2="241.3" stroke="#222" stroke-width="1.1"/>
<line x1="230.1" y1="253.3" x2="261.5" y2="253.3" stroke="#222" stroke-width="1.1"/>
<line x1="263.2" y1="253.3" x2="313.8" y2="253.3" stroke="#222" stroke-width="1.1"/>
<text x="272.1" y="239.3" font-size="7.45" text-anchor="middle" fill="#1c1c1c">Day 4</text>
<text x="245.6" y="251.7" font-size="7.45" text-anchor="middle" fill="#1c1c1c">Sham</text>
<text x="287.7" y="251.7" font-size="7.45" text-anchor="middle" fill="#1c1c1c">YF-ZIK</text>
<text x="235.21" y="284.4" font-size="7.3" text-anchor="start" fill="#1c1c1c" transform="rotate(-90 235.21 284.4)">R09021</text>
<text x="243.84" y="284.4" font-size="7.3" text-anchor="start" fill="#1c1c1c" transform="rotate(-90 243.84 284.4)">R13138</text>
<text x="252.46" y="284.4" font-size="7.3" text-anchor="start" fill="#1c1c1c" transform="rotate(-90 252.46 284.4)">R15015</text>
<text x="261.09" y="284.4" font-size="7.3" text-anchor="start" fill="#1c1c1c" transform="rotate(-90 261.09 284.4)">R04173</text>
<text x="269.71" y="284.4" font-size="7.3" text-anchor="start" fill="#1c1c1c" transform="rotate(-90 269.71 284.4)">R08024</text>
<text x="278.34" y="284.4" font-size="7.3" text-anchor="start" fill="#1c1c1c" transform="rotate(-90 278.34 284.4)">R09146</text>
<text x="286.96" y="284.4" font-size="7.3" text-anchor="start" fill="#1c1c1c" transform="rotate(-90 286.96 284.4)">R13010</text>
<text x="295.59" y="284.4" font-size="7.3" text-anchor="start" fill="#1c1c1c" transform="rotate(-90 295.59 284.4)">R13151</text>
<text x="304.21" y="284.4" font-size="7.3" text-anchor="start" fill="#1c1c1c" transform="rotate(-90 304.21 284.4)">R14166</text>
<text x="312.84" y="284.4" font-size="7.3" text-anchor="start" fill="#1c1c1c" transform="rotate(-90 312.84 284.4)">R10128</text>
<text x="316.7" y="239.2" font-size="7.4" text-anchor="start" fill="#1c1c1c">post challenge</text>
<text x="317.9" y="294.83" font-size="7.45" text-anchor="start" fill="#1c1c1c">Interferon signaling</text>
<text x="317.9" y="304.50" font-size="7.45" text-anchor="start" fill="#1c1c1c">Complement system</text>
<text x="317.9" y="315.46" font-size="7.45" text-anchor="start" fill="#1c1c1c">EM organization</text>
<text x="317.9" y="324.43" font-size="7.45" text-anchor="start" fill="#1c1c1c">Metabolism</text>
<text x="317.9" y="334.09" font-size="7.45" text-anchor="start" fill="#1c1c1c">Adaptive immunity</text>
<text x="317.9" y="343.16" font-size="7.45" text-anchor="start" fill="#1c1c1c">Interleukin signaling</text>
<text x="317.9" y="352.82" font-size="7.45" text-anchor="start" fill="#1c1c1c">TLR signaling</text>
<text x="317.9" y="363.29" font-size="7.45" text-anchor="start" fill="#1c1c1c">Death receptor signaling</text>
<text x="317.9" y="372.65" font-size="7.45" text-anchor="start" fill="#1c1c1c">Cell cycle</text>
<text x="317.9" y="381.82" font-size="7.45" text-anchor="start" fill="#1c1c1c">Wnt signaling</text>
<text x="317.9" y="392.08" font-size="7.45" text-anchor="start" fill="#1c1c1c">Innate immunity</text>
<text x="317.9" y="402.15" font-size="7.45" text-anchor="start" fill="#1c1c1c">Cellular stress</text>
<text x="317.9" y="410.81" font-size="7.45" text-anchor="start" fill="#1c1c1c">Apoptosis</text>
<text x="317.9" y="421.08" font-size="7.45" text-anchor="start" fill="#1c1c1c">NF-kB</text>
<text x="317.9" y="430.54" font-size="7.45" text-anchor="start" fill="#1c1c1c">Fc Receptor signaling</text>
<text x="317.9" y="439.81" font-size="7.45" text-anchor="start" fill="#1c1c1c">MAPK signaling</text>
<text x="317.9" y="450.27" font-size="7.45" text-anchor="start" fill="#1c1c1c">VEGF signaling</text>
<path d="M35.65 311.45L54.70 311.45 M35.65 321.11L54.70 321.11 M35.65 311.45L35.65 321.11 M29.25 316.28L35.65 316.28 M29.25 301.79L54.70 301.79 M29.25 301.79L29.25 316.28 M38.55 330.77L54.70 330.77 M38.55 340.43L54.70 340.43 M38.55 330.77L38.55 340.43 M37.85 350.09L54.70 350.09 M37.85 335.60L37.85 350.09 M37.85 335.60L38.55 335.60 M48.95 369.41L54.70 369.41 M48.95 379.07L54.70 379.07 M48.95 369.41L48.95 379.07 M41.85 374.24L48.95 374.24 M41.85 359.75L54.70 359.75 M41.85 359.75L41.85 374.24 M37.55 369.89L41.85 369.89 M37.55 388.73L54.70 388.73 M37.55 369.89L37.55 388.73 M46.65 408.05L54.70 408.05 M46.65 417.71L54.70 417.71 M46.65 408.05L46.65 417.71 M41.85 412.88L46.65 412.88 M41.85 398.39L54.70 398.39 M41.85 398.39L41.85 412.88 M49.95 427.37L54.70 427.37 M49.95 437.03L54.70 437.03 M49.95 427.37L49.95 437.03 M45.15 432.20L49.95 432.20 M45.15 446.69L54.70 446.69 M45.15 432.20L45.15 446.69 M40.85 407.44L41.85 407.44 M40.85 437.03L45.15 437.03 M40.85 407.44L40.85 437.03 M34.05 374.74L37.55 374.74 M34.05 422.50L40.85 422.50 M34.05 374.74L34.05 422.50 M26.75 340.43L37.85 340.43 M26.75 403.40L34.05 403.40 M26.75 340.43L26.75 403.40 M19.55 311.45L29.25 311.45 M19.55 388.60L26.75 388.60 M19.55 311.45L19.55 388.60 M10.35 292.13L54.70 292.13 M10.35 374.30L19.55 374.30 M10.35 292.13L10.35 374.30" stroke="#111" stroke-width="0.95" fill="none" stroke-linecap="square"/>
<defs><linearGradient id="cb" x1="0" x2="1" y1="0" y2="0">
<stop offset="0%" stop-color="#FFFFFF"/>
<stop offset="10%" stop-color="#EFF5FC"/>
<stop offset="20%" stop-color="#DFEBF9"/>
<stop offset="30%" stop-color="#CFE1F6"/>
<stop offset="40%" stop-color="#BFD7F4"/>
<stop offset="50%" stop-color="#AECDF1"/>
<stop offset="60%" stop-color="#B5AFD6"/>
<stop offset="70%" stop-color="#C48CAE"/>
<stop offset="80%" stop-color="#D5647E"/>
<stop offset="90%" stop-color="#E8404E"/>
<stop offset="100%" stop-color="#FF1A0A"/>
</linearGradient></defs>
<rect x="54.6" y="456.8" width="123" height="8" fill="url(#cb)" stroke="#555" stroke-width="0.8"/>
<text x="26.5" y="463" font-size="6.8" text-anchor="start" fill="#1c1c1c">row min</text>
<text x="184" y="463" font-size="6.8" text-anchor="start" fill="#1c1c1c">row max</text>
</g>
<g id="network">
<text x="446.3" y="238.2" font-size="14.8" text-anchor="start" fill="#000">d</text>
<line x1="504.7" y1="273.7" x2="500.2" y2="312.1" stroke="#B4B4B4" stroke-width="0.75"/>
<line x1="504.7" y1="273.7" x2="561" y2="289.1" stroke="#B4B4B4" stroke-width="0.75"/>
<line x1="500.2" y1="312.1" x2="603.1" y2="310.9" stroke="#B4B4B4" stroke-width="0.75"/>
<line x1="500.2" y1="312.1" x2="564" y2="337.6" stroke="#B4B4B4" stroke-width="0.75"/>
<line x1="500.2" y1="312.1" x2="567" y2="378.8" stroke="#B4B4B4" stroke-width="0.75"/>
<line x1="561" y1="289.1" x2="603.1" y2="310.9" stroke="#B4B4B4" stroke-width="0.75"/>
<line x1="561" y1="289.1" x2="564" y2="337.6" stroke="#B4B4B4" stroke-width="0.75"/>
<line x1="603.1" y1="310.9" x2="621.7" y2="355.1" stroke="#B4B4B4" stroke-width="0.75"/>
<line x1="564" y1="337.6" x2="621.7" y2="355.1" stroke="#B4B4B4" stroke-width="0.75"/>
<line x1="621.7" y1="355.1" x2="567" y2="378.8" stroke="#B4B4B4" stroke-width="0.75"/>
<line x1="500.2" y1="312.1" x2="561" y2="289.1" stroke="#595959" stroke-width="1.6"/>
<line x1="603.1" y1="310.9" x2="564" y2="337.6" stroke="#595959" stroke-width="1.4"/>
<line x1="603.1" y1="310.9" x2="567" y2="378.8" stroke="#595959" stroke-width="1.4"/>
<line x1="564" y1="337.6" x2="567" y2="378.8" stroke="#595959" stroke-width="1.4"/>
<line x1="498.7" y1="312.1" x2="494.4" y2="363.2" stroke="#C4323C" stroke-width="1.4"/>
<line x1="561" y1="289.1" x2="493.6" y2="363.2" stroke="#C4323C" stroke-width="1.05"/>
<line x1="603.1" y1="311.2" x2="495.3" y2="360.6" stroke="#C4323C" stroke-width="2.05"/>
<line x1="564" y1="338.8" x2="495.3" y2="363.2" stroke="#C4323C" stroke-width="1.8"/>
<line x1="621.7" y1="356.0" x2="495.3" y2="364.2" stroke="#C4323C" stroke-width="1.2"/>
<line x1="567" y1="380.2" x2="495.3" y2="365.6" stroke="#C4323C" stroke-width="2.05"/>
<circle cx="504.7" cy="273.7" r="6.0" fill="#fff"/>
<circle cx="500.2" cy="312.1" r="8.4" fill="#fff"/>
<circle cx="561" cy="289.1" r="8.5" fill="#fff"/>
<circle cx="603.1" cy="310.9" r="6.1" fill="#fff"/>
<circle cx="564" cy="337.6" r="6.1" fill="#fff"/>
<circle cx="621.7" cy="355.1" r="4.4" fill="#fff"/>
<circle cx="567" cy="378.8" r="6.3" fill="#fff"/>
<circle cx="495.3" cy="363.2" r="7.9" fill="#fff"/>
<circle cx="500.8" cy="402.5" r="4.5" fill="#fff"/>
<circle cx="504.7" cy="273.7" r="4.5" fill="#8EE08C" stroke="#86BE85" stroke-width="0.6"/>
<circle cx="500.2" cy="312.1" r="6.9" fill="#2FAE28" stroke="#237F1F" stroke-width="0.6"/>
<circle cx="561" cy="289.1" r="7.0" fill="#2FAE28" stroke="#237F1F" stroke-width="0.6"/>
<circle cx="603.1" cy="310.9" r="4.6" fill="#8EE08C" stroke="#86BE85" stroke-width="0.6"/>
<circle cx="564" cy="337.6" r="4.6" fill="#8EE08C" stroke="#86BE85" stroke-width="0.6"/>
<circle cx="621.7" cy="355.1" r="2.9" fill="#8EE08C" stroke="#86BE85" stroke-width="0.6"/>
<circle cx="567" cy="378.8" r="4.8" fill="#2FAE28" stroke="#237F1F" stroke-width="0.6"/>
<circle cx="495.3" cy="363.2" r="6.4" fill="#C62F39" stroke="#9E2029" stroke-width="0.6"/>
<circle cx="500.8" cy="402.5" r="3.0" fill="#8EE08C" stroke="#86BE85" stroke-width="0.6"/>
<text x="496.5" y="252.6" font-size="7.45" text-anchor="middle" fill="#1c1c1c">Regulation of defense</text>
<text x="496.5" y="261.6" font-size="7.45" text-anchor="middle" fill="#1c1c1c">response to virus</text>
<text x="559.7" y="277.9" font-size="7.45" text-anchor="start" fill="#1c1c1c">Response to virus</text>
<text x="452.5" y="298.9" font-size="7.45" text-anchor="start" fill="#1c1c1c">Defense response</text>
<text x="452.5" y="307.9" font-size="7.45" text-anchor="start" fill="#1c1c1c">to virus</text>
<text x="617" y="305.6" font-size="7.45" text-anchor="start" fill="#1c1c1c">Regulation of</text>
<text x="617" y="314.5" font-size="7.45" text-anchor="start" fill="#1c1c1c">viral life cycle</text>
<text x="572" y="339.4" font-size="7.45" text-anchor="start" fill="#1c1c1c">Negative regulation of viral</text>
<text x="572" y="348.4" font-size="7.45" text-anchor="start" fill="#1c1c1c">genome replication</text>
<text x="617" y="368.4" font-size="7.45" text-anchor="start" fill="#1c1c1c">Regulation of</text>
<text x="617" y="377.8" font-size="7.45" text-anchor="start" fill="#1c1c1c">ribonuclease activity</text>
<text x="431.5" y="383.0" font-size="7.45" text-anchor="start" fill="#1c1c1c">Regulation of viral process</text>
<text x="561" y="393.0" font-size="7.45" text-anchor="start" fill="#1c1c1c">Negative regulation of</text>
<text x="561" y="402.4" font-size="7.45" text-anchor="start" fill="#1c1c1c">viral process</text>
<text x="502.7" y="417.3" font-size="7.45" text-anchor="middle" fill="#1c1c1c">Complement activation,</text>
<text x="503.8" y="426.3" font-size="7.45" text-anchor="middle" fill="#1c1c1c">lectin pathway</text>
<text x="656" y="229.1" font-size="7.4" text-anchor="middle" fill="#1c1c1c">n genes</text>
<circle cx="648.7" cy="244.5" r="6.5" fill="#2FAE28" stroke="#237F1F" stroke-width="0.6"/>
<text x="668.1" y="247.25" font-size="7.9" text-anchor="end" fill="#1c1c1c">16</text>
<circle cx="648.7" cy="261.3" r="4.3" fill="#2FAE28" stroke="#237F1F" stroke-width="0.6"/>
<text x="668.1" y="264.05" font-size="7.9" text-anchor="end" fill="#1c1c1c">8</text>
<circle cx="648.7" cy="276.5" r="2.6" fill="#2FAE28" stroke="#237F1F" stroke-width="0.6"/>
<text x="668.1" y="279.25" font-size="7.9" text-anchor="end" fill="#1c1c1c">4</text>
</g>
</svg>
</body>
</html>
